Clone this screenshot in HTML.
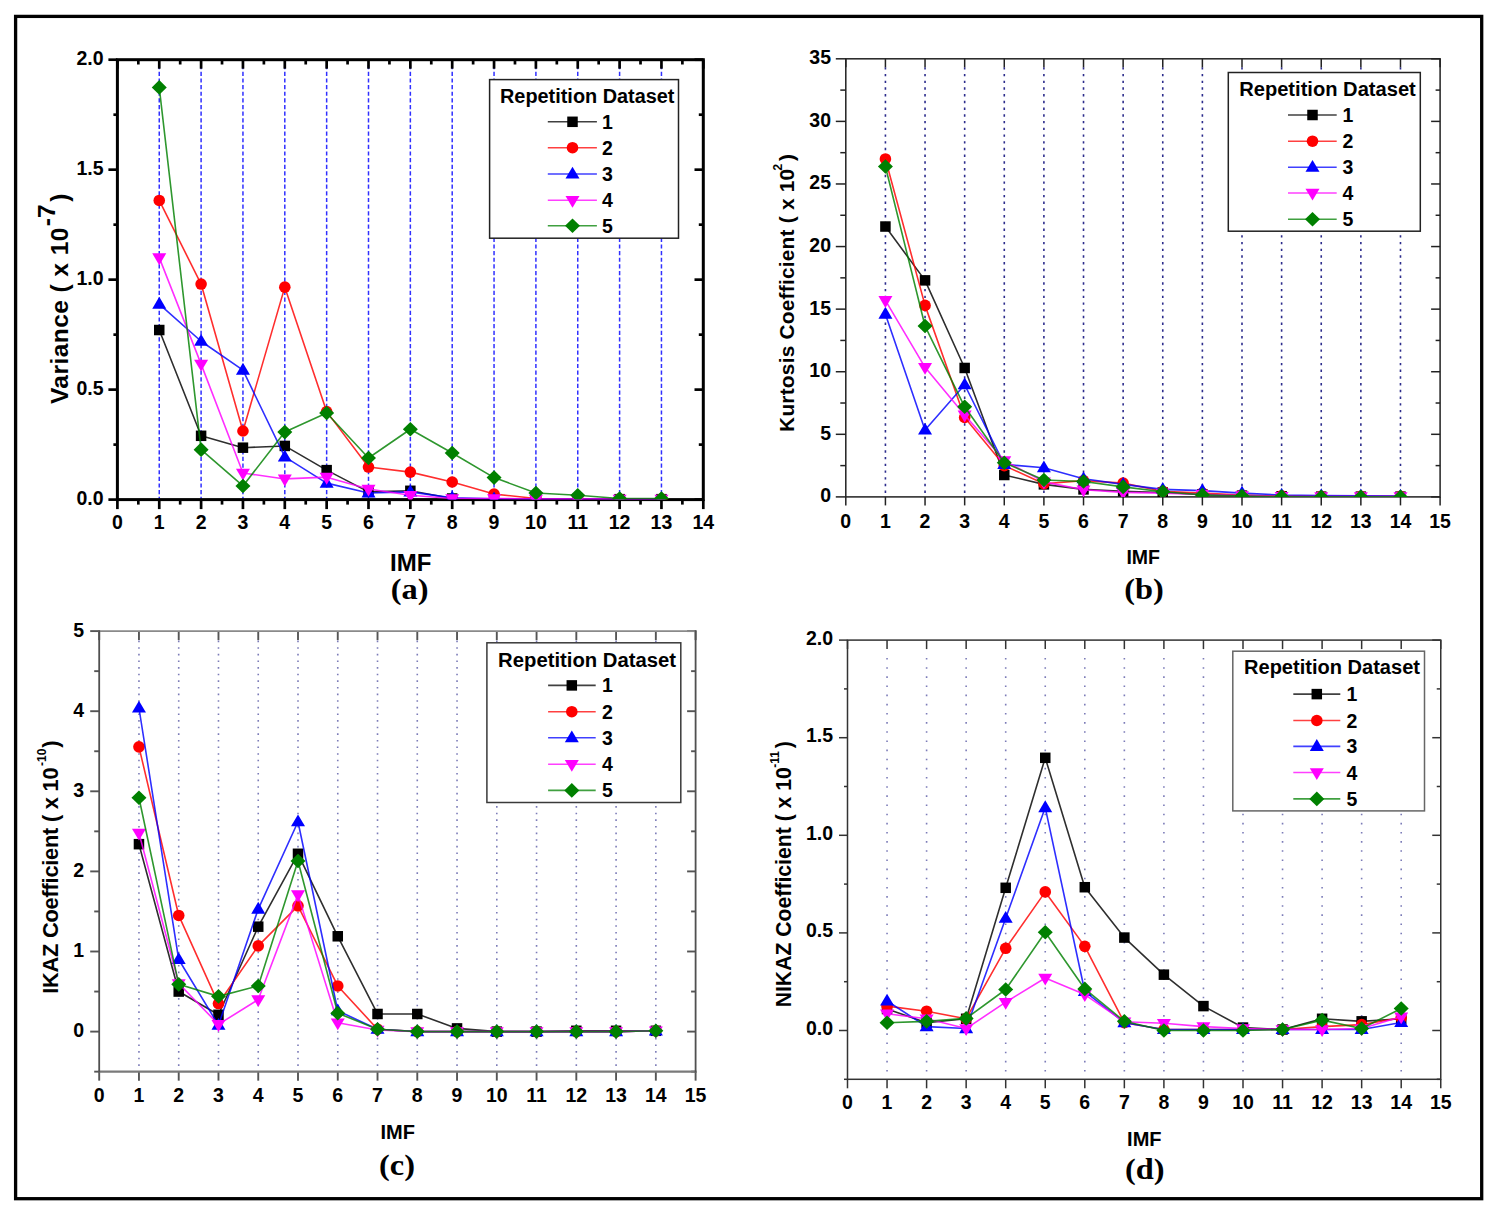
<!DOCTYPE html>
<html><head><meta charset="utf-8"><title>Figure</title>
<style>
html,body{margin:0;padding:0;background:#fff;}
body{width:1500px;height:1217px;overflow:hidden;}
svg{display:block;}
.b{font-family:"Liberation Sans",sans-serif;font-weight:bold;fill:#000;}
.s{font-family:"Liberation Serif",serif;font-weight:bold;fill:#000;}
</style></head>
<body>
<svg width="1500" height="1217" viewBox="0 0 1500 1217">
<rect x="0" y="0" width="1500" height="1217" fill="#fff"/>
<rect x="15.6" y="16.4" width="1466.1" height="1182.3" fill="none" stroke="#000" stroke-width="3.3"/>
<g>
<line x1="159.25" y1="65.1" x2="159.25" y2="499.6" stroke="#3030ff" stroke-width="1.5" stroke-dasharray="4.2 2.44"/>
<line x1="201.1" y1="65.1" x2="201.1" y2="499.6" stroke="#3030ff" stroke-width="1.5" stroke-dasharray="4.2 2.44"/>
<line x1="242.95" y1="65.1" x2="242.95" y2="499.6" stroke="#3030ff" stroke-width="1.5" stroke-dasharray="4.2 2.44"/>
<line x1="284.8" y1="65.1" x2="284.8" y2="499.6" stroke="#3030ff" stroke-width="1.5" stroke-dasharray="4.2 2.44"/>
<line x1="326.65" y1="65.1" x2="326.65" y2="499.6" stroke="#3030ff" stroke-width="1.5" stroke-dasharray="4.2 2.44"/>
<line x1="368.5" y1="65.1" x2="368.5" y2="499.6" stroke="#3030ff" stroke-width="1.5" stroke-dasharray="4.2 2.44"/>
<line x1="410.35" y1="65.1" x2="410.35" y2="499.6" stroke="#3030ff" stroke-width="1.5" stroke-dasharray="4.2 2.44"/>
<line x1="452.2" y1="65.1" x2="452.2" y2="499.6" stroke="#3030ff" stroke-width="1.5" stroke-dasharray="4.2 2.44"/>
<line x1="494.05" y1="65.1" x2="494.05" y2="499.6" stroke="#3030ff" stroke-width="1.5" stroke-dasharray="4.2 2.44"/>
<line x1="535.9" y1="65.1" x2="535.9" y2="499.6" stroke="#3030ff" stroke-width="1.5" stroke-dasharray="4.2 2.44"/>
<line x1="577.75" y1="65.1" x2="577.75" y2="499.6" stroke="#3030ff" stroke-width="1.5" stroke-dasharray="4.2 2.44"/>
<line x1="619.6" y1="65.1" x2="619.6" y2="499.6" stroke="#3030ff" stroke-width="1.5" stroke-dasharray="4.2 2.44"/>
<line x1="661.45" y1="65.1" x2="661.45" y2="499.6" stroke="#3030ff" stroke-width="1.5" stroke-dasharray="4.2 2.44"/>
<line x1="117.4" y1="499.6" x2="117.4" y2="509.1" stroke="#000" stroke-width="2.7"/>
<line x1="117.4" y1="59.7" x2="117.4" y2="68.7" stroke="#000" stroke-width="2.7"/>
<line x1="138.33" y1="499.6" x2="138.33" y2="504.6" stroke="#000" stroke-width="2.7"/>
<line x1="138.33" y1="59.7" x2="138.33" y2="64.5" stroke="#000" stroke-width="2.7"/>
<line x1="159.25" y1="499.6" x2="159.25" y2="509.1" stroke="#000" stroke-width="2.7"/>
<line x1="159.25" y1="59.7" x2="159.25" y2="68.7" stroke="#000" stroke-width="2.7"/>
<line x1="180.18" y1="499.6" x2="180.18" y2="504.6" stroke="#000" stroke-width="2.7"/>
<line x1="180.18" y1="59.7" x2="180.18" y2="64.5" stroke="#000" stroke-width="2.7"/>
<line x1="201.1" y1="499.6" x2="201.1" y2="509.1" stroke="#000" stroke-width="2.7"/>
<line x1="201.1" y1="59.7" x2="201.1" y2="68.7" stroke="#000" stroke-width="2.7"/>
<line x1="222.03" y1="499.6" x2="222.03" y2="504.6" stroke="#000" stroke-width="2.7"/>
<line x1="222.03" y1="59.7" x2="222.03" y2="64.5" stroke="#000" stroke-width="2.7"/>
<line x1="242.95" y1="499.6" x2="242.95" y2="509.1" stroke="#000" stroke-width="2.7"/>
<line x1="242.95" y1="59.7" x2="242.95" y2="68.7" stroke="#000" stroke-width="2.7"/>
<line x1="263.88" y1="499.6" x2="263.88" y2="504.6" stroke="#000" stroke-width="2.7"/>
<line x1="263.88" y1="59.7" x2="263.88" y2="64.5" stroke="#000" stroke-width="2.7"/>
<line x1="284.8" y1="499.6" x2="284.8" y2="509.1" stroke="#000" stroke-width="2.7"/>
<line x1="284.8" y1="59.7" x2="284.8" y2="68.7" stroke="#000" stroke-width="2.7"/>
<line x1="305.73" y1="499.6" x2="305.73" y2="504.6" stroke="#000" stroke-width="2.7"/>
<line x1="305.73" y1="59.7" x2="305.73" y2="64.5" stroke="#000" stroke-width="2.7"/>
<line x1="326.65" y1="499.6" x2="326.65" y2="509.1" stroke="#000" stroke-width="2.7"/>
<line x1="326.65" y1="59.7" x2="326.65" y2="68.7" stroke="#000" stroke-width="2.7"/>
<line x1="347.57" y1="499.6" x2="347.57" y2="504.6" stroke="#000" stroke-width="2.7"/>
<line x1="347.57" y1="59.7" x2="347.57" y2="64.5" stroke="#000" stroke-width="2.7"/>
<line x1="368.5" y1="499.6" x2="368.5" y2="509.1" stroke="#000" stroke-width="2.7"/>
<line x1="368.5" y1="59.7" x2="368.5" y2="68.7" stroke="#000" stroke-width="2.7"/>
<line x1="389.43" y1="499.6" x2="389.43" y2="504.6" stroke="#000" stroke-width="2.7"/>
<line x1="389.43" y1="59.7" x2="389.43" y2="64.5" stroke="#000" stroke-width="2.7"/>
<line x1="410.35" y1="499.6" x2="410.35" y2="509.1" stroke="#000" stroke-width="2.7"/>
<line x1="410.35" y1="59.7" x2="410.35" y2="68.7" stroke="#000" stroke-width="2.7"/>
<line x1="431.28" y1="499.6" x2="431.28" y2="504.6" stroke="#000" stroke-width="2.7"/>
<line x1="431.28" y1="59.7" x2="431.28" y2="64.5" stroke="#000" stroke-width="2.7"/>
<line x1="452.2" y1="499.6" x2="452.2" y2="509.1" stroke="#000" stroke-width="2.7"/>
<line x1="452.2" y1="59.7" x2="452.2" y2="68.7" stroke="#000" stroke-width="2.7"/>
<line x1="473.13" y1="499.6" x2="473.13" y2="504.6" stroke="#000" stroke-width="2.7"/>
<line x1="473.13" y1="59.7" x2="473.13" y2="64.5" stroke="#000" stroke-width="2.7"/>
<line x1="494.05" y1="499.6" x2="494.05" y2="509.1" stroke="#000" stroke-width="2.7"/>
<line x1="494.05" y1="59.7" x2="494.05" y2="68.7" stroke="#000" stroke-width="2.7"/>
<line x1="514.98" y1="499.6" x2="514.98" y2="504.6" stroke="#000" stroke-width="2.7"/>
<line x1="514.98" y1="59.7" x2="514.98" y2="64.5" stroke="#000" stroke-width="2.7"/>
<line x1="535.9" y1="499.6" x2="535.9" y2="509.1" stroke="#000" stroke-width="2.7"/>
<line x1="535.9" y1="59.7" x2="535.9" y2="68.7" stroke="#000" stroke-width="2.7"/>
<line x1="556.82" y1="499.6" x2="556.82" y2="504.6" stroke="#000" stroke-width="2.7"/>
<line x1="556.82" y1="59.7" x2="556.82" y2="64.5" stroke="#000" stroke-width="2.7"/>
<line x1="577.75" y1="499.6" x2="577.75" y2="509.1" stroke="#000" stroke-width="2.7"/>
<line x1="577.75" y1="59.7" x2="577.75" y2="68.7" stroke="#000" stroke-width="2.7"/>
<line x1="598.67" y1="499.6" x2="598.67" y2="504.6" stroke="#000" stroke-width="2.7"/>
<line x1="598.67" y1="59.7" x2="598.67" y2="64.5" stroke="#000" stroke-width="2.7"/>
<line x1="619.6" y1="499.6" x2="619.6" y2="509.1" stroke="#000" stroke-width="2.7"/>
<line x1="619.6" y1="59.7" x2="619.6" y2="68.7" stroke="#000" stroke-width="2.7"/>
<line x1="640.52" y1="499.6" x2="640.52" y2="504.6" stroke="#000" stroke-width="2.7"/>
<line x1="640.52" y1="59.7" x2="640.52" y2="64.5" stroke="#000" stroke-width="2.7"/>
<line x1="661.45" y1="499.6" x2="661.45" y2="509.1" stroke="#000" stroke-width="2.7"/>
<line x1="661.45" y1="59.7" x2="661.45" y2="68.7" stroke="#000" stroke-width="2.7"/>
<line x1="682.38" y1="499.6" x2="682.38" y2="504.6" stroke="#000" stroke-width="2.7"/>
<line x1="682.38" y1="59.7" x2="682.38" y2="64.5" stroke="#000" stroke-width="2.7"/>
<line x1="703.3" y1="499.6" x2="703.3" y2="509.1" stroke="#000" stroke-width="2.7"/>
<line x1="703.3" y1="59.7" x2="703.3" y2="68.7" stroke="#000" stroke-width="2.7"/>
<line x1="108.4" y1="499.6" x2="117.4" y2="499.6" stroke="#000" stroke-width="2.7"/>
<line x1="694.5" y1="499.6" x2="703.3" y2="499.6" stroke="#000" stroke-width="2.7"/>
<line x1="108.4" y1="389.62" x2="117.4" y2="389.62" stroke="#000" stroke-width="2.7"/>
<line x1="694.5" y1="389.62" x2="703.3" y2="389.62" stroke="#000" stroke-width="2.7"/>
<line x1="108.4" y1="279.65" x2="117.4" y2="279.65" stroke="#000" stroke-width="2.7"/>
<line x1="694.5" y1="279.65" x2="703.3" y2="279.65" stroke="#000" stroke-width="2.7"/>
<line x1="108.4" y1="169.68" x2="117.4" y2="169.68" stroke="#000" stroke-width="2.7"/>
<line x1="694.5" y1="169.68" x2="703.3" y2="169.68" stroke="#000" stroke-width="2.7"/>
<line x1="108.4" y1="59.7" x2="117.4" y2="59.7" stroke="#000" stroke-width="2.7"/>
<line x1="694.5" y1="59.7" x2="703.3" y2="59.7" stroke="#000" stroke-width="2.7"/>
<line x1="113.4" y1="444.61" x2="117.4" y2="444.61" stroke="#000" stroke-width="2.7"/>
<line x1="698.8" y1="444.61" x2="703.3" y2="444.61" stroke="#000" stroke-width="2.7"/>
<line x1="113.4" y1="334.64" x2="117.4" y2="334.64" stroke="#000" stroke-width="2.7"/>
<line x1="698.8" y1="334.64" x2="703.3" y2="334.64" stroke="#000" stroke-width="2.7"/>
<line x1="113.4" y1="224.66" x2="117.4" y2="224.66" stroke="#000" stroke-width="2.7"/>
<line x1="698.8" y1="224.66" x2="703.3" y2="224.66" stroke="#000" stroke-width="2.7"/>
<line x1="113.4" y1="114.69" x2="117.4" y2="114.69" stroke="#000" stroke-width="2.7"/>
<line x1="698.8" y1="114.69" x2="703.3" y2="114.69" stroke="#000" stroke-width="2.7"/>
<rect x="117.4" y="59.7" width="585.9" height="439.9" fill="none" stroke="#000" stroke-width="3"/>
<text x="117.4" y="529" font-size="19.5" text-anchor="middle" class="b">0</text>
<text x="159.25" y="529" font-size="19.5" text-anchor="middle" class="b">1</text>
<text x="201.1" y="529" font-size="19.5" text-anchor="middle" class="b">2</text>
<text x="242.95" y="529" font-size="19.5" text-anchor="middle" class="b">3</text>
<text x="284.8" y="529" font-size="19.5" text-anchor="middle" class="b">4</text>
<text x="326.65" y="529" font-size="19.5" text-anchor="middle" class="b">5</text>
<text x="368.5" y="529" font-size="19.5" text-anchor="middle" class="b">6</text>
<text x="410.35" y="529" font-size="19.5" text-anchor="middle" class="b">7</text>
<text x="452.2" y="529" font-size="19.5" text-anchor="middle" class="b">8</text>
<text x="494.05" y="529" font-size="19.5" text-anchor="middle" class="b">9</text>
<text x="535.9" y="529" font-size="19.5" text-anchor="middle" class="b">10</text>
<text x="577.75" y="529" font-size="19.5" text-anchor="middle" class="b">11</text>
<text x="619.6" y="529" font-size="19.5" text-anchor="middle" class="b">12</text>
<text x="661.45" y="529" font-size="19.5" text-anchor="middle" class="b">13</text>
<text x="703.3" y="529" font-size="19.5" text-anchor="middle" class="b">14</text>
<text x="103.5" y="505.1" font-size="19.5" text-anchor="end" class="b">0.0</text>
<text x="103.5" y="395.12" font-size="19.5" text-anchor="end" class="b">0.5</text>
<text x="103.5" y="285.15" font-size="19.5" text-anchor="end" class="b">1.0</text>
<text x="103.5" y="175.18" font-size="19.5" text-anchor="end" class="b">1.5</text>
<text x="103.5" y="65.2" font-size="19.5" text-anchor="end" class="b">2.0</text>
<clipPath id="clipa"><rect x="117.4" y="59.7" width="585.9" height="439.9"/></clipPath>
<g clip-path="url(#clipa)">
<path d="M159.25 330.02L201.1 435.81L242.95 447.69L284.8 445.93L326.65 470.13L368.5 491.9L410.35 490.8L452.2 498.5L494.05 498.72L535.9 498.94L577.75 498.94L619.6 499.16L661.45 499.16" fill="none" stroke="#000000" stroke-width="1.6" stroke-opacity="0.82" stroke-linejoin="round"/>
<rect x="154" y="324.77" width="10.5" height="10.5" fill="#000000"/>
<rect x="195.85" y="430.56" width="10.5" height="10.5" fill="#000000"/>
<rect x="237.7" y="442.44" width="10.5" height="10.5" fill="#000000"/>
<rect x="279.55" y="440.68" width="10.5" height="10.5" fill="#000000"/>
<rect x="321.4" y="464.88" width="10.5" height="10.5" fill="#000000"/>
<rect x="363.25" y="486.65" width="10.5" height="10.5" fill="#000000"/>
<rect x="405.1" y="485.55" width="10.5" height="10.5" fill="#000000"/>
<rect x="446.95" y="493.25" width="10.5" height="10.5" fill="#000000"/>
<rect x="488.8" y="493.47" width="10.5" height="10.5" fill="#000000"/>
<rect x="530.65" y="493.69" width="10.5" height="10.5" fill="#000000"/>
<rect x="572.5" y="493.69" width="10.5" height="10.5" fill="#000000"/>
<rect x="614.35" y="493.91" width="10.5" height="10.5" fill="#000000"/>
<rect x="656.2" y="493.91" width="10.5" height="10.5" fill="#000000"/>
<path d="M159.25 200.47L201.1 284.05L242.95 430.98L284.8 287.13L326.65 411.62L368.5 467.05L410.35 472.11L452.2 482L494.05 494.1L535.9 498.5L577.75 498.72L619.6 498.94L661.45 498.94" fill="none" stroke="#ff0000" stroke-width="1.6" stroke-opacity="0.82" stroke-linejoin="round"/>
<circle cx="159.25" cy="200.47" r="5.8" fill="#ff0000"/>
<circle cx="201.1" cy="284.05" r="5.8" fill="#ff0000"/>
<circle cx="242.95" cy="430.98" r="5.8" fill="#ff0000"/>
<circle cx="284.8" cy="287.13" r="5.8" fill="#ff0000"/>
<circle cx="326.65" cy="411.62" r="5.8" fill="#ff0000"/>
<circle cx="368.5" cy="467.05" r="5.8" fill="#ff0000"/>
<circle cx="410.35" cy="472.11" r="5.8" fill="#ff0000"/>
<circle cx="452.2" cy="482" r="5.8" fill="#ff0000"/>
<circle cx="494.05" cy="494.1" r="5.8" fill="#ff0000"/>
<circle cx="535.9" cy="498.5" r="5.8" fill="#ff0000"/>
<circle cx="577.75" cy="498.72" r="5.8" fill="#ff0000"/>
<circle cx="619.6" cy="498.94" r="5.8" fill="#ff0000"/>
<circle cx="661.45" cy="498.94" r="5.8" fill="#ff0000"/>
<path d="M159.25 304.06L201.1 341.24L242.95 370.05L284.8 456.93L326.65 483.1L368.5 493L410.35 491.9L452.2 497.84L494.05 498.72L535.9 498.94L577.75 498.94L619.6 499.16L661.45 499.16" fill="none" stroke="#0000ff" stroke-width="1.6" stroke-opacity="0.82" stroke-linejoin="round"/>
<path d="M159.25 296.76L166.25 308.66L152.25 308.66Z" fill="#0000ff"/>
<path d="M201.1 333.94L208.1 345.84L194.1 345.84Z" fill="#0000ff"/>
<path d="M242.95 362.75L249.95 374.65L235.95 374.65Z" fill="#0000ff"/>
<path d="M284.8 449.63L291.8 461.53L277.8 461.53Z" fill="#0000ff"/>
<path d="M326.65 475.8L333.65 487.7L319.65 487.7Z" fill="#0000ff"/>
<path d="M368.5 485.7L375.5 497.6L361.5 497.6Z" fill="#0000ff"/>
<path d="M410.35 484.6L417.35 496.5L403.35 496.5Z" fill="#0000ff"/>
<path d="M452.2 490.54L459.2 502.44L445.2 502.44Z" fill="#0000ff"/>
<path d="M494.05 491.42L501.05 503.32L487.05 503.32Z" fill="#0000ff"/>
<path d="M535.9 491.64L542.9 503.54L528.9 503.54Z" fill="#0000ff"/>
<path d="M577.75 491.64L584.75 503.54L570.75 503.54Z" fill="#0000ff"/>
<path d="M619.6 491.86L626.6 503.76L612.6 503.76Z" fill="#0000ff"/>
<path d="M661.45 491.86L668.45 503.76L654.45 503.76Z" fill="#0000ff"/>
<path d="M159.25 257.66L201.1 364.11L242.95 472.99L284.8 478.92L326.65 477.17L368.5 489.04L410.35 495.2L452.2 498.5L494.05 498.5L535.9 498.94L577.75 498.94L619.6 498.94L661.45 498.94" fill="none" stroke="#ff00ff" stroke-width="1.6" stroke-opacity="0.82" stroke-linejoin="round"/>
<path d="M152.25 253.36L166.25 253.36L159.25 265.16Z" fill="#ff00ff"/>
<path d="M194.1 359.81L208.1 359.81L201.1 371.61Z" fill="#ff00ff"/>
<path d="M235.95 468.69L249.95 468.69L242.95 480.49Z" fill="#ff00ff"/>
<path d="M277.8 474.62L291.8 474.62L284.8 486.42Z" fill="#ff00ff"/>
<path d="M319.65 472.87L333.65 472.87L326.65 484.67Z" fill="#ff00ff"/>
<path d="M361.5 484.74L375.5 484.74L368.5 496.54Z" fill="#ff00ff"/>
<path d="M403.35 490.9L417.35 490.9L410.35 502.7Z" fill="#ff00ff"/>
<path d="M445.2 494.2L459.2 494.2L452.2 506Z" fill="#ff00ff"/>
<path d="M487.05 494.2L501.05 494.2L494.05 506Z" fill="#ff00ff"/>
<path d="M528.9 494.64L542.9 494.64L535.9 506.44Z" fill="#ff00ff"/>
<path d="M570.75 494.64L584.75 494.64L577.75 506.44Z" fill="#ff00ff"/>
<path d="M612.6 494.64L626.6 494.64L619.6 506.44Z" fill="#ff00ff"/>
<path d="M654.45 494.64L668.45 494.64L661.45 506.44Z" fill="#ff00ff"/>
<path d="M159.25 87.41L201.1 449.67L242.95 485.96L284.8 432.08L326.65 412.94L368.5 458.03L410.35 429.22L452.2 452.97L494.05 477.61L535.9 493L577.75 495.2L619.6 498.5L661.45 498.5" fill="none" stroke="#008000" stroke-width="1.6" stroke-opacity="0.82" stroke-linejoin="round"/>
<path d="M159.25 80.11L166.75 87.41L159.25 94.71L151.75 87.41Z" fill="#008000"/>
<path d="M201.1 442.37L208.6 449.67L201.1 456.97L193.6 449.67Z" fill="#008000"/>
<path d="M242.95 478.66L250.45 485.96L242.95 493.26L235.45 485.96Z" fill="#008000"/>
<path d="M284.8 424.78L292.3 432.08L284.8 439.38L277.3 432.08Z" fill="#008000"/>
<path d="M326.65 405.64L334.15 412.94L326.65 420.24L319.15 412.94Z" fill="#008000"/>
<path d="M368.5 450.73L376 458.03L368.5 465.33L361 458.03Z" fill="#008000"/>
<path d="M410.35 421.92L417.85 429.22L410.35 436.52L402.85 429.22Z" fill="#008000"/>
<path d="M452.2 445.67L459.7 452.97L452.2 460.27L444.7 452.97Z" fill="#008000"/>
<path d="M494.05 470.31L501.55 477.61L494.05 484.91L486.55 477.61Z" fill="#008000"/>
<path d="M535.9 485.7L543.4 493L535.9 500.3L528.4 493Z" fill="#008000"/>
<path d="M577.75 487.9L585.25 495.2L577.75 502.5L570.25 495.2Z" fill="#008000"/>
<path d="M619.6 491.2L627.1 498.5L619.6 505.8L612.1 498.5Z" fill="#008000"/>
<path d="M661.45 491.2L668.95 498.5L661.45 505.8L653.95 498.5Z" fill="#008000"/>
</g>
<rect x="489.6" y="79.6" width="188.9" height="158.6" fill="#fff" stroke="#222" stroke-width="1.5"/>
<text x="500" y="103.3" font-size="20" class="b" textLength="174.5" lengthAdjust="spacingAndGlyphs">Repetition Dataset</text>
<line x1="547.8" y1="121.8" x2="596.9" y2="121.8" stroke="#000000" stroke-width="1.6" stroke-opacity="0.75"/>
<rect x="567.25" y="116.55" width="10.5" height="10.5" fill="#000000"/>
<text x="602" y="128.8" font-size="19.5" class="b">1</text>
<line x1="547.8" y1="147.7" x2="596.9" y2="147.7" stroke="#ff0000" stroke-width="1.6" stroke-opacity="0.75"/>
<circle cx="572.5" cy="147.7" r="5.8" fill="#ff0000"/>
<text x="602" y="154.7" font-size="19.5" class="b">2</text>
<line x1="547.8" y1="174" x2="596.9" y2="174" stroke="#0000ff" stroke-width="1.6" stroke-opacity="0.75"/>
<path d="M572.5 166.7L579.5 178.6L565.5 178.6Z" fill="#0000ff"/>
<text x="602" y="181" font-size="19.5" class="b">3</text>
<line x1="547.8" y1="200.2" x2="596.9" y2="200.2" stroke="#ff00ff" stroke-width="1.6" stroke-opacity="0.75"/>
<path d="M565.5 195.9L579.5 195.9L572.5 207.7Z" fill="#ff00ff"/>
<text x="602" y="207.2" font-size="19.5" class="b">4</text>
<line x1="547.8" y1="225.8" x2="596.9" y2="225.8" stroke="#008000" stroke-width="1.6" stroke-opacity="0.75"/>
<path d="M572.5 218.5L580 225.8L572.5 233.1L565 225.8Z" fill="#008000"/>
<text x="602" y="232.8" font-size="19.5" class="b">5</text>
<text transform="translate(0 0) rotate(-90)" font-size="24.5" class="b"><tspan x="-404.07" y="67.5" letter-spacing="0.44">Variance ( x 10</tspan><tspan x="-226.26" y="54.5" font-size="24.5">-7</tspan><tspan x="-201.72" y="67.5">)</tspan></text>
<text x="410.7" y="570.5" font-size="24" text-anchor="middle" class="b">IMF</text>
<text transform="translate(409.7 598.8) scale(1.08 1)" font-size="30" text-anchor="middle" class="s">(a)</text>
</g>
<g>
<line x1="885.42" y1="67.21" x2="885.42" y2="496.9" stroke="#2c2c8c" stroke-width="1.6" stroke-dasharray="2.4 4.32"/>
<line x1="925.04" y1="67.21" x2="925.04" y2="496.9" stroke="#2c2c8c" stroke-width="1.6" stroke-dasharray="2.4 4.32"/>
<line x1="964.66" y1="67.21" x2="964.66" y2="496.9" stroke="#2c2c8c" stroke-width="1.6" stroke-dasharray="2.4 4.32"/>
<line x1="1004.28" y1="67.21" x2="1004.28" y2="496.9" stroke="#2c2c8c" stroke-width="1.6" stroke-dasharray="2.4 4.32"/>
<line x1="1043.9" y1="67.21" x2="1043.9" y2="496.9" stroke="#2c2c8c" stroke-width="1.6" stroke-dasharray="2.4 4.32"/>
<line x1="1083.52" y1="67.21" x2="1083.52" y2="496.9" stroke="#2c2c8c" stroke-width="1.6" stroke-dasharray="2.4 4.32"/>
<line x1="1123.14" y1="67.21" x2="1123.14" y2="496.9" stroke="#2c2c8c" stroke-width="1.6" stroke-dasharray="2.4 4.32"/>
<line x1="1162.76" y1="67.21" x2="1162.76" y2="496.9" stroke="#2c2c8c" stroke-width="1.6" stroke-dasharray="2.4 4.32"/>
<line x1="1202.38" y1="67.21" x2="1202.38" y2="496.9" stroke="#2c2c8c" stroke-width="1.6" stroke-dasharray="2.4 4.32"/>
<line x1="1242" y1="67.21" x2="1242" y2="496.9" stroke="#2c2c8c" stroke-width="1.6" stroke-dasharray="2.4 4.32"/>
<line x1="1281.62" y1="67.21" x2="1281.62" y2="496.9" stroke="#2c2c8c" stroke-width="1.6" stroke-dasharray="2.4 4.32"/>
<line x1="1321.24" y1="67.21" x2="1321.24" y2="496.9" stroke="#2c2c8c" stroke-width="1.6" stroke-dasharray="2.4 4.32"/>
<line x1="1360.86" y1="67.21" x2="1360.86" y2="496.9" stroke="#2c2c8c" stroke-width="1.6" stroke-dasharray="2.4 4.32"/>
<line x1="1400.48" y1="67.21" x2="1400.48" y2="496.9" stroke="#2c2c8c" stroke-width="1.6" stroke-dasharray="2.4 4.32"/>
<line x1="845.8" y1="496.9" x2="845.8" y2="505.4" stroke="#222" stroke-width="1.5"/>
<line x1="845.8" y1="58.81" x2="845.8" y2="67.31" stroke="#222" stroke-width="1.5"/>
<line x1="885.42" y1="496.9" x2="885.42" y2="505.4" stroke="#222" stroke-width="1.5"/>
<line x1="885.42" y1="58.81" x2="885.42" y2="67.31" stroke="#222" stroke-width="1.5"/>
<line x1="925.04" y1="496.9" x2="925.04" y2="505.4" stroke="#222" stroke-width="1.5"/>
<line x1="925.04" y1="58.81" x2="925.04" y2="67.31" stroke="#222" stroke-width="1.5"/>
<line x1="964.66" y1="496.9" x2="964.66" y2="505.4" stroke="#222" stroke-width="1.5"/>
<line x1="964.66" y1="58.81" x2="964.66" y2="67.31" stroke="#222" stroke-width="1.5"/>
<line x1="1004.28" y1="496.9" x2="1004.28" y2="505.4" stroke="#222" stroke-width="1.5"/>
<line x1="1004.28" y1="58.81" x2="1004.28" y2="67.31" stroke="#222" stroke-width="1.5"/>
<line x1="1043.9" y1="496.9" x2="1043.9" y2="505.4" stroke="#222" stroke-width="1.5"/>
<line x1="1043.9" y1="58.81" x2="1043.9" y2="67.31" stroke="#222" stroke-width="1.5"/>
<line x1="1083.52" y1="496.9" x2="1083.52" y2="505.4" stroke="#222" stroke-width="1.5"/>
<line x1="1083.52" y1="58.81" x2="1083.52" y2="67.31" stroke="#222" stroke-width="1.5"/>
<line x1="1123.14" y1="496.9" x2="1123.14" y2="505.4" stroke="#222" stroke-width="1.5"/>
<line x1="1123.14" y1="58.81" x2="1123.14" y2="67.31" stroke="#222" stroke-width="1.5"/>
<line x1="1162.76" y1="496.9" x2="1162.76" y2="505.4" stroke="#222" stroke-width="1.5"/>
<line x1="1162.76" y1="58.81" x2="1162.76" y2="67.31" stroke="#222" stroke-width="1.5"/>
<line x1="1202.38" y1="496.9" x2="1202.38" y2="505.4" stroke="#222" stroke-width="1.5"/>
<line x1="1202.38" y1="58.81" x2="1202.38" y2="67.31" stroke="#222" stroke-width="1.5"/>
<line x1="1242" y1="496.9" x2="1242" y2="505.4" stroke="#222" stroke-width="1.5"/>
<line x1="1242" y1="58.81" x2="1242" y2="67.31" stroke="#222" stroke-width="1.5"/>
<line x1="1281.62" y1="496.9" x2="1281.62" y2="505.4" stroke="#222" stroke-width="1.5"/>
<line x1="1281.62" y1="58.81" x2="1281.62" y2="67.31" stroke="#222" stroke-width="1.5"/>
<line x1="1321.24" y1="496.9" x2="1321.24" y2="505.4" stroke="#222" stroke-width="1.5"/>
<line x1="1321.24" y1="58.81" x2="1321.24" y2="67.31" stroke="#222" stroke-width="1.5"/>
<line x1="1360.86" y1="496.9" x2="1360.86" y2="505.4" stroke="#222" stroke-width="1.5"/>
<line x1="1360.86" y1="58.81" x2="1360.86" y2="67.31" stroke="#222" stroke-width="1.5"/>
<line x1="1400.48" y1="496.9" x2="1400.48" y2="505.4" stroke="#222" stroke-width="1.5"/>
<line x1="1400.48" y1="58.81" x2="1400.48" y2="67.31" stroke="#222" stroke-width="1.5"/>
<line x1="1440.1" y1="496.9" x2="1440.1" y2="505.4" stroke="#222" stroke-width="1.5"/>
<line x1="1440.1" y1="58.81" x2="1440.1" y2="67.31" stroke="#222" stroke-width="1.5"/>
<line x1="835.8" y1="496.9" x2="845.8" y2="496.9" stroke="#222" stroke-width="1.5"/>
<line x1="1431.1" y1="496.9" x2="1440.1" y2="496.9" stroke="#222" stroke-width="1.5"/>
<line x1="835.8" y1="434.31" x2="845.8" y2="434.31" stroke="#222" stroke-width="1.5"/>
<line x1="1431.1" y1="434.31" x2="1440.1" y2="434.31" stroke="#222" stroke-width="1.5"/>
<line x1="835.8" y1="371.73" x2="845.8" y2="371.73" stroke="#222" stroke-width="1.5"/>
<line x1="1431.1" y1="371.73" x2="1440.1" y2="371.73" stroke="#222" stroke-width="1.5"/>
<line x1="835.8" y1="309.14" x2="845.8" y2="309.14" stroke="#222" stroke-width="1.5"/>
<line x1="1431.1" y1="309.14" x2="1440.1" y2="309.14" stroke="#222" stroke-width="1.5"/>
<line x1="835.8" y1="246.56" x2="845.8" y2="246.56" stroke="#222" stroke-width="1.5"/>
<line x1="1431.1" y1="246.56" x2="1440.1" y2="246.56" stroke="#222" stroke-width="1.5"/>
<line x1="835.8" y1="183.97" x2="845.8" y2="183.97" stroke="#222" stroke-width="1.5"/>
<line x1="1431.1" y1="183.97" x2="1440.1" y2="183.97" stroke="#222" stroke-width="1.5"/>
<line x1="835.8" y1="121.39" x2="845.8" y2="121.39" stroke="#222" stroke-width="1.5"/>
<line x1="1431.1" y1="121.39" x2="1440.1" y2="121.39" stroke="#222" stroke-width="1.5"/>
<line x1="835.8" y1="58.81" x2="845.8" y2="58.81" stroke="#222" stroke-width="1.5"/>
<line x1="1431.1" y1="58.81" x2="1440.1" y2="58.81" stroke="#222" stroke-width="1.5"/>
<line x1="840.3" y1="465.61" x2="845.8" y2="465.61" stroke="#222" stroke-width="1.5"/>
<line x1="1435.6" y1="465.61" x2="1440.1" y2="465.61" stroke="#222" stroke-width="1.5"/>
<line x1="840.3" y1="403.02" x2="845.8" y2="403.02" stroke="#222" stroke-width="1.5"/>
<line x1="1435.6" y1="403.02" x2="1440.1" y2="403.02" stroke="#222" stroke-width="1.5"/>
<line x1="840.3" y1="340.44" x2="845.8" y2="340.44" stroke="#222" stroke-width="1.5"/>
<line x1="1435.6" y1="340.44" x2="1440.1" y2="340.44" stroke="#222" stroke-width="1.5"/>
<line x1="840.3" y1="277.85" x2="845.8" y2="277.85" stroke="#222" stroke-width="1.5"/>
<line x1="1435.6" y1="277.85" x2="1440.1" y2="277.85" stroke="#222" stroke-width="1.5"/>
<line x1="840.3" y1="215.27" x2="845.8" y2="215.27" stroke="#222" stroke-width="1.5"/>
<line x1="1435.6" y1="215.27" x2="1440.1" y2="215.27" stroke="#222" stroke-width="1.5"/>
<line x1="840.3" y1="152.68" x2="845.8" y2="152.68" stroke="#222" stroke-width="1.5"/>
<line x1="1435.6" y1="152.68" x2="1440.1" y2="152.68" stroke="#222" stroke-width="1.5"/>
<line x1="840.3" y1="90.1" x2="845.8" y2="90.1" stroke="#222" stroke-width="1.5"/>
<line x1="1435.6" y1="90.1" x2="1440.1" y2="90.1" stroke="#222" stroke-width="1.5"/>
<rect x="845.8" y="58.81" width="594.3" height="438.09" fill="none" stroke="#222" stroke-width="1.5"/>
<text x="845.8" y="528" font-size="19.5" text-anchor="middle" class="b">0</text>
<text x="885.42" y="528" font-size="19.5" text-anchor="middle" class="b">1</text>
<text x="925.04" y="528" font-size="19.5" text-anchor="middle" class="b">2</text>
<text x="964.66" y="528" font-size="19.5" text-anchor="middle" class="b">3</text>
<text x="1004.28" y="528" font-size="19.5" text-anchor="middle" class="b">4</text>
<text x="1043.9" y="528" font-size="19.5" text-anchor="middle" class="b">5</text>
<text x="1083.52" y="528" font-size="19.5" text-anchor="middle" class="b">6</text>
<text x="1123.14" y="528" font-size="19.5" text-anchor="middle" class="b">7</text>
<text x="1162.76" y="528" font-size="19.5" text-anchor="middle" class="b">8</text>
<text x="1202.38" y="528" font-size="19.5" text-anchor="middle" class="b">9</text>
<text x="1242" y="528" font-size="19.5" text-anchor="middle" class="b">10</text>
<text x="1281.62" y="528" font-size="19.5" text-anchor="middle" class="b">11</text>
<text x="1321.24" y="528" font-size="19.5" text-anchor="middle" class="b">12</text>
<text x="1360.86" y="528" font-size="19.5" text-anchor="middle" class="b">13</text>
<text x="1400.48" y="528" font-size="19.5" text-anchor="middle" class="b">14</text>
<text x="1440.1" y="528" font-size="19.5" text-anchor="middle" class="b">15</text>
<text x="831" y="502.4" font-size="19.5" text-anchor="end" class="b">0</text>
<text x="831" y="439.81" font-size="19.5" text-anchor="end" class="b">5</text>
<text x="831" y="377.23" font-size="19.5" text-anchor="end" class="b">10</text>
<text x="831" y="314.64" font-size="19.5" text-anchor="end" class="b">15</text>
<text x="831" y="252.06" font-size="19.5" text-anchor="end" class="b">20</text>
<text x="831" y="189.47" font-size="19.5" text-anchor="end" class="b">25</text>
<text x="831" y="126.89" font-size="19.5" text-anchor="end" class="b">30</text>
<text x="831" y="64.31" font-size="19.5" text-anchor="end" class="b">35</text>
<clipPath id="clipb"><rect x="845.8" y="58.81" width="594.3" height="438.09"/></clipPath>
<g clip-path="url(#clipb)">
<path d="M885.42 226.53L925.04 280.36L964.66 367.97L1004.28 475L1043.9 484.38L1083.52 489.39L1123.14 491.27L1162.76 492.52L1202.38 494.4L1242 495.65L1281.62 496.27L1321.24 496.65L1360.86 496.65L1400.48 496.65" fill="none" stroke="#000000" stroke-width="1.6" stroke-opacity="0.82" stroke-linejoin="round"/>
<rect x="880.17" y="221.28" width="10.5" height="10.5" fill="#000000"/>
<rect x="919.79" y="275.11" width="10.5" height="10.5" fill="#000000"/>
<rect x="959.41" y="362.72" width="10.5" height="10.5" fill="#000000"/>
<rect x="999.03" y="469.75" width="10.5" height="10.5" fill="#000000"/>
<rect x="1038.65" y="479.13" width="10.5" height="10.5" fill="#000000"/>
<rect x="1078.27" y="484.14" width="10.5" height="10.5" fill="#000000"/>
<rect x="1117.89" y="486.02" width="10.5" height="10.5" fill="#000000"/>
<rect x="1157.51" y="487.27" width="10.5" height="10.5" fill="#000000"/>
<rect x="1197.13" y="489.15" width="10.5" height="10.5" fill="#000000"/>
<rect x="1236.75" y="490.4" width="10.5" height="10.5" fill="#000000"/>
<rect x="1276.37" y="491.02" width="10.5" height="10.5" fill="#000000"/>
<rect x="1315.99" y="491.4" width="10.5" height="10.5" fill="#000000"/>
<rect x="1355.61" y="491.4" width="10.5" height="10.5" fill="#000000"/>
<rect x="1395.23" y="491.4" width="10.5" height="10.5" fill="#000000"/>
<path d="M885.42 158.94L925.04 305.39L964.66 417.42L1004.28 465.61L1043.9 483.76L1083.52 480.63L1123.14 483.13L1162.76 491.27L1202.38 493.14L1242 495.02L1281.62 495.9L1321.24 496.27L1360.86 496.4L1400.48 496.4" fill="none" stroke="#ff0000" stroke-width="1.6" stroke-opacity="0.82" stroke-linejoin="round"/>
<circle cx="885.42" cy="158.94" r="5.8" fill="#ff0000"/>
<circle cx="925.04" cy="305.39" r="5.8" fill="#ff0000"/>
<circle cx="964.66" cy="417.42" r="5.8" fill="#ff0000"/>
<circle cx="1004.28" cy="465.61" r="5.8" fill="#ff0000"/>
<circle cx="1043.9" cy="483.76" r="5.8" fill="#ff0000"/>
<circle cx="1083.52" cy="480.63" r="5.8" fill="#ff0000"/>
<circle cx="1123.14" cy="483.13" r="5.8" fill="#ff0000"/>
<circle cx="1162.76" cy="491.27" r="5.8" fill="#ff0000"/>
<circle cx="1202.38" cy="493.14" r="5.8" fill="#ff0000"/>
<circle cx="1242" cy="495.02" r="5.8" fill="#ff0000"/>
<circle cx="1281.62" cy="495.9" r="5.8" fill="#ff0000"/>
<circle cx="1321.24" cy="496.27" r="5.8" fill="#ff0000"/>
<circle cx="1360.86" cy="496.4" r="5.8" fill="#ff0000"/>
<circle cx="1400.48" cy="496.4" r="5.8" fill="#ff0000"/>
<path d="M885.42 314.15L925.04 429.93L964.66 384.75L1004.28 464.36L1043.9 467.74L1083.52 478.75L1123.14 484.38L1162.76 489.39L1202.38 490.64L1242 493.14L1281.62 495.02L1321.24 495.65L1360.86 495.9L1400.48 496.15" fill="none" stroke="#0000ff" stroke-width="1.6" stroke-opacity="0.82" stroke-linejoin="round"/>
<path d="M885.42 306.85L892.42 318.75L878.42 318.75Z" fill="#0000ff"/>
<path d="M925.04 422.63L932.04 434.53L918.04 434.53Z" fill="#0000ff"/>
<path d="M964.66 377.45L971.66 389.35L957.66 389.35Z" fill="#0000ff"/>
<path d="M1004.28 457.06L1011.28 468.96L997.28 468.96Z" fill="#0000ff"/>
<path d="M1043.9 460.44L1050.9 472.34L1036.9 472.34Z" fill="#0000ff"/>
<path d="M1083.52 471.45L1090.52 483.35L1076.52 483.35Z" fill="#0000ff"/>
<path d="M1123.14 477.08L1130.14 488.98L1116.14 488.98Z" fill="#0000ff"/>
<path d="M1162.76 482.09L1169.76 493.99L1155.76 493.99Z" fill="#0000ff"/>
<path d="M1202.38 483.34L1209.38 495.24L1195.38 495.24Z" fill="#0000ff"/>
<path d="M1242 485.84L1249 497.74L1235 497.74Z" fill="#0000ff"/>
<path d="M1281.62 487.72L1288.62 499.62L1274.62 499.62Z" fill="#0000ff"/>
<path d="M1321.24 488.35L1328.24 500.25L1314.24 500.25Z" fill="#0000ff"/>
<path d="M1360.86 488.6L1367.86 500.5L1353.86 500.5Z" fill="#0000ff"/>
<path d="M1400.48 488.85L1407.48 500.75L1393.48 500.75Z" fill="#0000ff"/>
<path d="M885.42 300.38L925.04 367.35L964.66 414.91L1004.28 460.6L1043.9 481.88L1083.52 489.77L1123.14 492.39L1162.76 493.14L1202.38 494.4L1242 495.65L1281.62 496.27L1321.24 496.52L1360.86 496.65L1400.48 496.65" fill="none" stroke="#ff00ff" stroke-width="1.6" stroke-opacity="0.82" stroke-linejoin="round"/>
<path d="M878.42 296.08L892.42 296.08L885.42 307.88Z" fill="#ff00ff"/>
<path d="M918.04 363.05L932.04 363.05L925.04 374.85Z" fill="#ff00ff"/>
<path d="M957.66 410.61L971.66 410.61L964.66 422.41Z" fill="#ff00ff"/>
<path d="M997.28 456.3L1011.28 456.3L1004.28 468.1Z" fill="#ff00ff"/>
<path d="M1036.9 477.58L1050.9 477.58L1043.9 489.38Z" fill="#ff00ff"/>
<path d="M1076.52 485.47L1090.52 485.47L1083.52 497.27Z" fill="#ff00ff"/>
<path d="M1116.14 488.09L1130.14 488.09L1123.14 499.89Z" fill="#ff00ff"/>
<path d="M1155.76 488.84L1169.76 488.84L1162.76 500.64Z" fill="#ff00ff"/>
<path d="M1195.38 490.1L1209.38 490.1L1202.38 501.9Z" fill="#ff00ff"/>
<path d="M1235 491.35L1249 491.35L1242 503.15Z" fill="#ff00ff"/>
<path d="M1274.62 491.97L1288.62 491.97L1281.62 503.77Z" fill="#ff00ff"/>
<path d="M1314.24 492.22L1328.24 492.22L1321.24 504.02Z" fill="#ff00ff"/>
<path d="M1353.86 492.35L1367.86 492.35L1360.86 504.15Z" fill="#ff00ff"/>
<path d="M1393.48 492.35L1407.48 492.35L1400.48 504.15Z" fill="#ff00ff"/>
<path d="M885.42 166.45L925.04 326.04L964.66 406.78L1004.28 462.73L1043.9 480L1083.52 481.5L1123.14 486.89L1162.76 491.77L1202.38 494.9L1242 496.02L1281.62 496.65L1321.24 496.9L1360.86 496.9L1400.48 496.9" fill="none" stroke="#008000" stroke-width="1.6" stroke-opacity="0.82" stroke-linejoin="round"/>
<path d="M885.42 159.15L892.92 166.45L885.42 173.75L877.92 166.45Z" fill="#008000"/>
<path d="M925.04 318.74L932.54 326.04L925.04 333.34L917.54 326.04Z" fill="#008000"/>
<path d="M964.66 399.48L972.16 406.78L964.66 414.08L957.16 406.78Z" fill="#008000"/>
<path d="M1004.28 455.43L1011.78 462.73L1004.28 470.03L996.78 462.73Z" fill="#008000"/>
<path d="M1043.9 472.7L1051.4 480L1043.9 487.3L1036.4 480Z" fill="#008000"/>
<path d="M1083.52 474.2L1091.02 481.5L1083.52 488.8L1076.02 481.5Z" fill="#008000"/>
<path d="M1123.14 479.59L1130.64 486.89L1123.14 494.19L1115.64 486.89Z" fill="#008000"/>
<path d="M1162.76 484.47L1170.26 491.77L1162.76 499.07L1155.26 491.77Z" fill="#008000"/>
<path d="M1202.38 487.6L1209.88 494.9L1202.38 502.2L1194.88 494.9Z" fill="#008000"/>
<path d="M1242 488.72L1249.5 496.02L1242 503.32L1234.5 496.02Z" fill="#008000"/>
<path d="M1281.62 489.35L1289.12 496.65L1281.62 503.95L1274.12 496.65Z" fill="#008000"/>
<path d="M1321.24 489.6L1328.74 496.9L1321.24 504.2L1313.74 496.9Z" fill="#008000"/>
<path d="M1360.86 489.6L1368.36 496.9L1360.86 504.2L1353.36 496.9Z" fill="#008000"/>
<path d="M1400.48 489.6L1407.98 496.9L1400.48 504.2L1392.98 496.9Z" fill="#008000"/>
</g>
<rect x="1228.3" y="72.5" width="192" height="158.7" fill="#fff" stroke="#222" stroke-width="1.5"/>
<text x="1239.2" y="95.8" font-size="20" class="b" textLength="176.6" lengthAdjust="spacingAndGlyphs">Repetition Dataset</text>
<line x1="1288" y1="115" x2="1336.7" y2="115" stroke="#000000" stroke-width="1.6" stroke-opacity="0.75"/>
<rect x="1307.25" y="109.75" width="10.5" height="10.5" fill="#000000"/>
<text x="1342.5" y="122" font-size="19.5" class="b">1</text>
<line x1="1288" y1="141.2" x2="1336.7" y2="141.2" stroke="#ff0000" stroke-width="1.6" stroke-opacity="0.75"/>
<circle cx="1312.5" cy="141.2" r="5.8" fill="#ff0000"/>
<text x="1342.5" y="148.2" font-size="19.5" class="b">2</text>
<line x1="1288" y1="167.2" x2="1336.7" y2="167.2" stroke="#0000ff" stroke-width="1.6" stroke-opacity="0.75"/>
<path d="M1312.5 159.9L1319.5 171.8L1305.5 171.8Z" fill="#0000ff"/>
<text x="1342.5" y="174.2" font-size="19.5" class="b">3</text>
<line x1="1288" y1="193" x2="1336.7" y2="193" stroke="#ff00ff" stroke-width="1.6" stroke-opacity="0.75"/>
<path d="M1305.5 188.7L1319.5 188.7L1312.5 200.5Z" fill="#ff00ff"/>
<text x="1342.5" y="200" font-size="19.5" class="b">4</text>
<line x1="1288" y1="219.2" x2="1336.7" y2="219.2" stroke="#008000" stroke-width="1.6" stroke-opacity="0.75"/>
<path d="M1312.5 211.9L1320 219.2L1312.5 226.5L1305 219.2Z" fill="#008000"/>
<text x="1342.5" y="226.2" font-size="19.5" class="b">5</text>
<text transform="translate(0 0) rotate(-90)" font-size="20.8" class="b"><tspan x="-431.89" y="794" letter-spacing="0.25">Kurtosis Coefficient ( x 10</tspan><tspan x="-170.73" y="781.5" font-size="12.5">2</tspan><tspan x="-161.02" y="794">)</tspan></text>
<text x="1143.2" y="563.6" font-size="19.5" text-anchor="middle" class="b">IMF</text>
<text transform="translate(1144.1 599.2) scale(1.08 1)" font-size="30" text-anchor="middle" class="s">(b)</text>
</g>
<g>
<line x1="138.96" y1="640.6" x2="138.96" y2="1071.65" stroke="#7c7cb8" stroke-width="1.6" stroke-dasharray="1.6 5.02"/>
<line x1="178.72" y1="640.6" x2="178.72" y2="1071.65" stroke="#7c7cb8" stroke-width="1.6" stroke-dasharray="1.6 5.02"/>
<line x1="218.48" y1="640.6" x2="218.48" y2="1071.65" stroke="#7c7cb8" stroke-width="1.6" stroke-dasharray="1.6 5.02"/>
<line x1="258.24" y1="640.6" x2="258.24" y2="1071.65" stroke="#7c7cb8" stroke-width="1.6" stroke-dasharray="1.6 5.02"/>
<line x1="298" y1="640.6" x2="298" y2="1071.65" stroke="#7c7cb8" stroke-width="1.6" stroke-dasharray="1.6 5.02"/>
<line x1="337.76" y1="640.6" x2="337.76" y2="1071.65" stroke="#7c7cb8" stroke-width="1.6" stroke-dasharray="1.6 5.02"/>
<line x1="377.52" y1="640.6" x2="377.52" y2="1071.65" stroke="#7c7cb8" stroke-width="1.6" stroke-dasharray="1.6 5.02"/>
<line x1="417.28" y1="640.6" x2="417.28" y2="1071.65" stroke="#7c7cb8" stroke-width="1.6" stroke-dasharray="1.6 5.02"/>
<line x1="457.04" y1="640.6" x2="457.04" y2="1071.65" stroke="#7c7cb8" stroke-width="1.6" stroke-dasharray="1.6 5.02"/>
<line x1="496.8" y1="640.6" x2="496.8" y2="1071.65" stroke="#7c7cb8" stroke-width="1.6" stroke-dasharray="1.6 5.02"/>
<line x1="536.56" y1="640.6" x2="536.56" y2="1071.65" stroke="#7c7cb8" stroke-width="1.6" stroke-dasharray="1.6 5.02"/>
<line x1="576.32" y1="640.6" x2="576.32" y2="1071.65" stroke="#7c7cb8" stroke-width="1.6" stroke-dasharray="1.6 5.02"/>
<line x1="616.08" y1="640.6" x2="616.08" y2="1071.65" stroke="#7c7cb8" stroke-width="1.6" stroke-dasharray="1.6 5.02"/>
<line x1="655.84" y1="640.6" x2="655.84" y2="1071.65" stroke="#7c7cb8" stroke-width="1.6" stroke-dasharray="1.6 5.02"/>
<line x1="99.2" y1="1071.65" x2="99.2" y2="1080.65" stroke="#555" stroke-width="1.9"/>
<line x1="99.2" y1="631.1" x2="99.2" y2="640.1" stroke="#555" stroke-width="1.9"/>
<line x1="138.96" y1="1071.65" x2="138.96" y2="1080.65" stroke="#555" stroke-width="1.9"/>
<line x1="138.96" y1="631.1" x2="138.96" y2="640.1" stroke="#555" stroke-width="1.9"/>
<line x1="178.72" y1="1071.65" x2="178.72" y2="1080.65" stroke="#555" stroke-width="1.9"/>
<line x1="178.72" y1="631.1" x2="178.72" y2="640.1" stroke="#555" stroke-width="1.9"/>
<line x1="218.48" y1="1071.65" x2="218.48" y2="1080.65" stroke="#555" stroke-width="1.9"/>
<line x1="218.48" y1="631.1" x2="218.48" y2="640.1" stroke="#555" stroke-width="1.9"/>
<line x1="258.24" y1="1071.65" x2="258.24" y2="1080.65" stroke="#555" stroke-width="1.9"/>
<line x1="258.24" y1="631.1" x2="258.24" y2="640.1" stroke="#555" stroke-width="1.9"/>
<line x1="298" y1="1071.65" x2="298" y2="1080.65" stroke="#555" stroke-width="1.9"/>
<line x1="298" y1="631.1" x2="298" y2="640.1" stroke="#555" stroke-width="1.9"/>
<line x1="337.76" y1="1071.65" x2="337.76" y2="1080.65" stroke="#555" stroke-width="1.9"/>
<line x1="337.76" y1="631.1" x2="337.76" y2="640.1" stroke="#555" stroke-width="1.9"/>
<line x1="377.52" y1="1071.65" x2="377.52" y2="1080.65" stroke="#555" stroke-width="1.9"/>
<line x1="377.52" y1="631.1" x2="377.52" y2="640.1" stroke="#555" stroke-width="1.9"/>
<line x1="417.28" y1="1071.65" x2="417.28" y2="1080.65" stroke="#555" stroke-width="1.9"/>
<line x1="417.28" y1="631.1" x2="417.28" y2="640.1" stroke="#555" stroke-width="1.9"/>
<line x1="457.04" y1="1071.65" x2="457.04" y2="1080.65" stroke="#555" stroke-width="1.9"/>
<line x1="457.04" y1="631.1" x2="457.04" y2="640.1" stroke="#555" stroke-width="1.9"/>
<line x1="496.8" y1="1071.65" x2="496.8" y2="1080.65" stroke="#555" stroke-width="1.9"/>
<line x1="496.8" y1="631.1" x2="496.8" y2="640.1" stroke="#555" stroke-width="1.9"/>
<line x1="536.56" y1="1071.65" x2="536.56" y2="1080.65" stroke="#555" stroke-width="1.9"/>
<line x1="536.56" y1="631.1" x2="536.56" y2="640.1" stroke="#555" stroke-width="1.9"/>
<line x1="576.32" y1="1071.65" x2="576.32" y2="1080.65" stroke="#555" stroke-width="1.9"/>
<line x1="576.32" y1="631.1" x2="576.32" y2="640.1" stroke="#555" stroke-width="1.9"/>
<line x1="616.08" y1="1071.65" x2="616.08" y2="1080.65" stroke="#555" stroke-width="1.9"/>
<line x1="616.08" y1="631.1" x2="616.08" y2="640.1" stroke="#555" stroke-width="1.9"/>
<line x1="655.84" y1="1071.65" x2="655.84" y2="1080.65" stroke="#555" stroke-width="1.9"/>
<line x1="655.84" y1="631.1" x2="655.84" y2="640.1" stroke="#555" stroke-width="1.9"/>
<line x1="695.6" y1="1071.65" x2="695.6" y2="1080.65" stroke="#555" stroke-width="1.9"/>
<line x1="695.6" y1="631.1" x2="695.6" y2="640.1" stroke="#555" stroke-width="1.9"/>
<line x1="90.2" y1="1031.6" x2="99.2" y2="1031.6" stroke="#555" stroke-width="1.9"/>
<line x1="687.1" y1="1031.6" x2="695.6" y2="1031.6" stroke="#555" stroke-width="1.9"/>
<line x1="90.2" y1="951.5" x2="99.2" y2="951.5" stroke="#555" stroke-width="1.9"/>
<line x1="687.1" y1="951.5" x2="695.6" y2="951.5" stroke="#555" stroke-width="1.9"/>
<line x1="90.2" y1="871.4" x2="99.2" y2="871.4" stroke="#555" stroke-width="1.9"/>
<line x1="687.1" y1="871.4" x2="695.6" y2="871.4" stroke="#555" stroke-width="1.9"/>
<line x1="90.2" y1="791.3" x2="99.2" y2="791.3" stroke="#555" stroke-width="1.9"/>
<line x1="687.1" y1="791.3" x2="695.6" y2="791.3" stroke="#555" stroke-width="1.9"/>
<line x1="90.2" y1="711.2" x2="99.2" y2="711.2" stroke="#555" stroke-width="1.9"/>
<line x1="687.1" y1="711.2" x2="695.6" y2="711.2" stroke="#555" stroke-width="1.9"/>
<line x1="90.2" y1="631.1" x2="99.2" y2="631.1" stroke="#555" stroke-width="1.9"/>
<line x1="687.1" y1="631.1" x2="695.6" y2="631.1" stroke="#555" stroke-width="1.9"/>
<line x1="94.2" y1="1071.65" x2="99.2" y2="1071.65" stroke="#555" stroke-width="1.9"/>
<line x1="691.1" y1="1071.65" x2="695.6" y2="1071.65" stroke="#555" stroke-width="1.9"/>
<line x1="94.2" y1="991.55" x2="99.2" y2="991.55" stroke="#555" stroke-width="1.9"/>
<line x1="691.1" y1="991.55" x2="695.6" y2="991.55" stroke="#555" stroke-width="1.9"/>
<line x1="94.2" y1="911.45" x2="99.2" y2="911.45" stroke="#555" stroke-width="1.9"/>
<line x1="691.1" y1="911.45" x2="695.6" y2="911.45" stroke="#555" stroke-width="1.9"/>
<line x1="94.2" y1="831.35" x2="99.2" y2="831.35" stroke="#555" stroke-width="1.9"/>
<line x1="691.1" y1="831.35" x2="695.6" y2="831.35" stroke="#555" stroke-width="1.9"/>
<line x1="94.2" y1="751.25" x2="99.2" y2="751.25" stroke="#555" stroke-width="1.9"/>
<line x1="691.1" y1="751.25" x2="695.6" y2="751.25" stroke="#555" stroke-width="1.9"/>
<line x1="94.2" y1="671.15" x2="99.2" y2="671.15" stroke="#555" stroke-width="1.9"/>
<line x1="691.1" y1="671.15" x2="695.6" y2="671.15" stroke="#555" stroke-width="1.9"/>
<line x1="98.3" y1="631.1" x2="696.5" y2="631.1" stroke="#8a8a8a" stroke-width="1.8"/>
<line x1="98.3" y1="1071.65" x2="696.5" y2="1071.65" stroke="#7a7a7a" stroke-width="2.1"/>
<line x1="99.2" y1="630.2" x2="99.2" y2="1072.55" stroke="#505050" stroke-width="1.8"/>
<line x1="695.6" y1="630.2" x2="695.6" y2="1072.55" stroke="#505050" stroke-width="1.8"/>
<text x="99.2" y="1102" font-size="19.5" text-anchor="middle" class="b">0</text>
<text x="138.96" y="1102" font-size="19.5" text-anchor="middle" class="b">1</text>
<text x="178.72" y="1102" font-size="19.5" text-anchor="middle" class="b">2</text>
<text x="218.48" y="1102" font-size="19.5" text-anchor="middle" class="b">3</text>
<text x="258.24" y="1102" font-size="19.5" text-anchor="middle" class="b">4</text>
<text x="298" y="1102" font-size="19.5" text-anchor="middle" class="b">5</text>
<text x="337.76" y="1102" font-size="19.5" text-anchor="middle" class="b">6</text>
<text x="377.52" y="1102" font-size="19.5" text-anchor="middle" class="b">7</text>
<text x="417.28" y="1102" font-size="19.5" text-anchor="middle" class="b">8</text>
<text x="457.04" y="1102" font-size="19.5" text-anchor="middle" class="b">9</text>
<text x="496.8" y="1102" font-size="19.5" text-anchor="middle" class="b">10</text>
<text x="536.56" y="1102" font-size="19.5" text-anchor="middle" class="b">11</text>
<text x="576.32" y="1102" font-size="19.5" text-anchor="middle" class="b">12</text>
<text x="616.08" y="1102" font-size="19.5" text-anchor="middle" class="b">13</text>
<text x="655.84" y="1102" font-size="19.5" text-anchor="middle" class="b">14</text>
<text x="695.6" y="1102" font-size="19.5" text-anchor="middle" class="b">15</text>
<text x="84" y="1037.1" font-size="19.5" text-anchor="end" class="b">0</text>
<text x="84" y="957" font-size="19.5" text-anchor="end" class="b">1</text>
<text x="84" y="876.9" font-size="19.5" text-anchor="end" class="b">2</text>
<text x="84" y="796.8" font-size="19.5" text-anchor="end" class="b">3</text>
<text x="84" y="716.7" font-size="19.5" text-anchor="end" class="b">4</text>
<text x="84" y="636.6" font-size="19.5" text-anchor="end" class="b">5</text>
<clipPath id="clipc"><rect x="99.2" y="631.1" width="596.4" height="440.55"/></clipPath>
<g clip-path="url(#clipc)">
<path d="M138.96 844.17L178.72 991.55L218.48 1014.78L258.24 926.67L298 853.78L337.76 936.28L377.52 1013.98L417.28 1013.98L457.04 1028.4L496.8 1031.6L536.56 1031.6L576.32 1030.8L616.08 1030.8L655.84 1030.8" fill="none" stroke="#000000" stroke-width="1.6" stroke-opacity="0.82" stroke-linejoin="round"/>
<rect x="133.71" y="838.92" width="10.5" height="10.5" fill="#000000"/>
<rect x="173.47" y="986.3" width="10.5" height="10.5" fill="#000000"/>
<rect x="213.23" y="1009.53" width="10.5" height="10.5" fill="#000000"/>
<rect x="252.99" y="921.42" width="10.5" height="10.5" fill="#000000"/>
<rect x="292.75" y="848.53" width="10.5" height="10.5" fill="#000000"/>
<rect x="332.51" y="931.03" width="10.5" height="10.5" fill="#000000"/>
<rect x="372.27" y="1008.73" width="10.5" height="10.5" fill="#000000"/>
<rect x="412.03" y="1008.73" width="10.5" height="10.5" fill="#000000"/>
<rect x="451.79" y="1023.15" width="10.5" height="10.5" fill="#000000"/>
<rect x="491.55" y="1026.35" width="10.5" height="10.5" fill="#000000"/>
<rect x="531.31" y="1026.35" width="10.5" height="10.5" fill="#000000"/>
<rect x="571.07" y="1025.55" width="10.5" height="10.5" fill="#000000"/>
<rect x="610.83" y="1025.55" width="10.5" height="10.5" fill="#000000"/>
<rect x="650.59" y="1025.55" width="10.5" height="10.5" fill="#000000"/>
<path d="M138.96 746.84L178.72 915.45L218.48 1003.56L258.24 945.89L298 905.84L337.76 985.94L377.52 1029.2L417.28 1031.6L457.04 1031.6L496.8 1031.6L536.56 1031.6L576.32 1031.6L616.08 1031.6L655.84 1030.8" fill="none" stroke="#ff0000" stroke-width="1.6" stroke-opacity="0.82" stroke-linejoin="round"/>
<circle cx="138.96" cy="746.84" r="5.8" fill="#ff0000"/>
<circle cx="178.72" cy="915.45" r="5.8" fill="#ff0000"/>
<circle cx="218.48" cy="1003.56" r="5.8" fill="#ff0000"/>
<circle cx="258.24" cy="945.89" r="5.8" fill="#ff0000"/>
<circle cx="298" cy="905.84" r="5.8" fill="#ff0000"/>
<circle cx="337.76" cy="985.94" r="5.8" fill="#ff0000"/>
<circle cx="377.52" cy="1029.2" r="5.8" fill="#ff0000"/>
<circle cx="417.28" cy="1031.6" r="5.8" fill="#ff0000"/>
<circle cx="457.04" cy="1031.6" r="5.8" fill="#ff0000"/>
<circle cx="496.8" cy="1031.6" r="5.8" fill="#ff0000"/>
<circle cx="536.56" cy="1031.6" r="5.8" fill="#ff0000"/>
<circle cx="576.32" cy="1031.6" r="5.8" fill="#ff0000"/>
<circle cx="616.08" cy="1031.6" r="5.8" fill="#ff0000"/>
<circle cx="655.84" cy="1030.8" r="5.8" fill="#ff0000"/>
<path d="M138.96 708L178.72 959.51L218.48 1025.19L258.24 909.05L298 821.74L337.76 1010.77L377.52 1029.2L417.28 1031.6L457.04 1031.6L496.8 1031.6L536.56 1031.6L576.32 1031.6L616.08 1031.6L655.84 1030.8" fill="none" stroke="#0000ff" stroke-width="1.6" stroke-opacity="0.82" stroke-linejoin="round"/>
<path d="M138.96 700.7L145.96 712.6L131.96 712.6Z" fill="#0000ff"/>
<path d="M178.72 952.21L185.72 964.11L171.72 964.11Z" fill="#0000ff"/>
<path d="M218.48 1017.89L225.48 1029.79L211.48 1029.79Z" fill="#0000ff"/>
<path d="M258.24 901.75L265.24 913.65L251.24 913.65Z" fill="#0000ff"/>
<path d="M298 814.44L305 826.34L291 826.34Z" fill="#0000ff"/>
<path d="M337.76 1003.47L344.76 1015.37L330.76 1015.37Z" fill="#0000ff"/>
<path d="M377.52 1021.9L384.52 1033.8L370.52 1033.8Z" fill="#0000ff"/>
<path d="M417.28 1024.3L424.28 1036.2L410.28 1036.2Z" fill="#0000ff"/>
<path d="M457.04 1024.3L464.04 1036.2L450.04 1036.2Z" fill="#0000ff"/>
<path d="M496.8 1024.3L503.8 1036.2L489.8 1036.2Z" fill="#0000ff"/>
<path d="M536.56 1024.3L543.56 1036.2L529.56 1036.2Z" fill="#0000ff"/>
<path d="M576.32 1024.3L583.32 1036.2L569.32 1036.2Z" fill="#0000ff"/>
<path d="M616.08 1024.3L623.08 1036.2L609.08 1036.2Z" fill="#0000ff"/>
<path d="M655.84 1023.5L662.84 1035.4L648.84 1035.4Z" fill="#0000ff"/>
<path d="M138.96 832.95L178.72 983.54L218.48 1024.39L258.24 999.56L298 894.63L337.76 1022.79L377.52 1030L417.28 1031.6L457.04 1031.6L496.8 1031.6L536.56 1031.6L576.32 1031.6L616.08 1031.6L655.84 1030.8" fill="none" stroke="#ff00ff" stroke-width="1.6" stroke-opacity="0.82" stroke-linejoin="round"/>
<path d="M131.96 828.65L145.96 828.65L138.96 840.45Z" fill="#ff00ff"/>
<path d="M171.72 979.24L185.72 979.24L178.72 991.04Z" fill="#ff00ff"/>
<path d="M211.48 1020.09L225.48 1020.09L218.48 1031.89Z" fill="#ff00ff"/>
<path d="M251.24 995.26L265.24 995.26L258.24 1007.06Z" fill="#ff00ff"/>
<path d="M291 890.33L305 890.33L298 902.13Z" fill="#ff00ff"/>
<path d="M330.76 1018.49L344.76 1018.49L337.76 1030.29Z" fill="#ff00ff"/>
<path d="M370.52 1025.7L384.52 1025.7L377.52 1037.5Z" fill="#ff00ff"/>
<path d="M410.28 1027.3L424.28 1027.3L417.28 1039.1Z" fill="#ff00ff"/>
<path d="M450.04 1027.3L464.04 1027.3L457.04 1039.1Z" fill="#ff00ff"/>
<path d="M489.8 1027.3L503.8 1027.3L496.8 1039.1Z" fill="#ff00ff"/>
<path d="M529.56 1027.3L543.56 1027.3L536.56 1039.1Z" fill="#ff00ff"/>
<path d="M569.32 1027.3L583.32 1027.3L576.32 1039.1Z" fill="#ff00ff"/>
<path d="M609.08 1027.3L623.08 1027.3L616.08 1039.1Z" fill="#ff00ff"/>
<path d="M648.84 1026.5L662.84 1026.5L655.84 1038.3Z" fill="#ff00ff"/>
<path d="M138.96 797.71L178.72 984.34L218.48 996.36L258.24 985.94L298 860.99L337.76 1013.18L377.52 1029.2L417.28 1031.6L457.04 1031.6L496.8 1031.6L536.56 1031.6L576.32 1031.6L616.08 1031.6L655.84 1030.8" fill="none" stroke="#008000" stroke-width="1.6" stroke-opacity="0.82" stroke-linejoin="round"/>
<path d="M138.96 790.41L146.46 797.71L138.96 805.01L131.46 797.71Z" fill="#008000"/>
<path d="M178.72 977.04L186.22 984.34L178.72 991.64L171.22 984.34Z" fill="#008000"/>
<path d="M218.48 989.06L225.98 996.36L218.48 1003.66L210.98 996.36Z" fill="#008000"/>
<path d="M258.24 978.64L265.74 985.94L258.24 993.24L250.74 985.94Z" fill="#008000"/>
<path d="M298 853.69L305.5 860.99L298 868.29L290.5 860.99Z" fill="#008000"/>
<path d="M337.76 1005.88L345.26 1013.18L337.76 1020.48L330.26 1013.18Z" fill="#008000"/>
<path d="M377.52 1021.9L385.02 1029.2L377.52 1036.5L370.02 1029.2Z" fill="#008000"/>
<path d="M417.28 1024.3L424.78 1031.6L417.28 1038.9L409.78 1031.6Z" fill="#008000"/>
<path d="M457.04 1024.3L464.54 1031.6L457.04 1038.9L449.54 1031.6Z" fill="#008000"/>
<path d="M496.8 1024.3L504.3 1031.6L496.8 1038.9L489.3 1031.6Z" fill="#008000"/>
<path d="M536.56 1024.3L544.06 1031.6L536.56 1038.9L529.06 1031.6Z" fill="#008000"/>
<path d="M576.32 1024.3L583.82 1031.6L576.32 1038.9L568.82 1031.6Z" fill="#008000"/>
<path d="M616.08 1024.3L623.58 1031.6L616.08 1038.9L608.58 1031.6Z" fill="#008000"/>
<path d="M655.84 1023.5L663.34 1030.8L655.84 1038.1L648.34 1030.8Z" fill="#008000"/>
</g>
<rect x="486.9" y="642.8" width="193.9" height="159.7" fill="#fff" stroke="#3a3a3a" stroke-width="1.5"/>
<text x="498.1" y="666.7" font-size="20" class="b" textLength="178" lengthAdjust="spacingAndGlyphs">Repetition Dataset</text>
<line x1="548.1" y1="685.4" x2="595.7" y2="685.4" stroke="#000000" stroke-width="1.6" stroke-opacity="0.75"/>
<rect x="566.55" y="680.15" width="10.5" height="10.5" fill="#000000"/>
<text x="602" y="692.4" font-size="19.5" class="b">1</text>
<line x1="548.1" y1="711.7" x2="595.7" y2="711.7" stroke="#ff0000" stroke-width="1.6" stroke-opacity="0.75"/>
<circle cx="571.8" cy="711.7" r="5.8" fill="#ff0000"/>
<text x="602" y="718.7" font-size="19.5" class="b">2</text>
<line x1="548.1" y1="737.7" x2="595.7" y2="737.7" stroke="#0000ff" stroke-width="1.6" stroke-opacity="0.75"/>
<path d="M571.8 730.4L578.8 742.3L564.8 742.3Z" fill="#0000ff"/>
<text x="602" y="744.7" font-size="19.5" class="b">3</text>
<line x1="548.1" y1="764.3" x2="595.7" y2="764.3" stroke="#ff00ff" stroke-width="1.6" stroke-opacity="0.75"/>
<path d="M564.8 760L578.8 760L571.8 771.8Z" fill="#ff00ff"/>
<text x="602" y="771.3" font-size="19.5" class="b">4</text>
<line x1="548.1" y1="790.4" x2="595.7" y2="790.4" stroke="#008000" stroke-width="1.6" stroke-opacity="0.75"/>
<path d="M571.8 783.1L579.3 790.4L571.8 797.7L564.3 790.4Z" fill="#008000"/>
<text x="602" y="797.4" font-size="19.5" class="b">5</text>
<text transform="translate(0 0) rotate(-90)" font-size="21.8" class="b"><tspan x="-993.86" y="58" letter-spacing="-0.22">IKAZ Coefficient ( x 10</tspan><tspan x="-765.97" y="46" font-size="12">-10</tspan><tspan x="-747.82" y="58">)</tspan></text>
<text x="397.7" y="1139.2" font-size="20" text-anchor="middle" class="b">IMF</text>
<text transform="translate(397 1175.4) scale(1.08 1)" font-size="30" text-anchor="middle" class="s">(c)</text>
</g>
<g>
<line x1="887.05" y1="658" x2="887.05" y2="1079.3" stroke="#7c7cb8" stroke-width="1.6" stroke-dasharray="1.6 7.555"/>
<line x1="926.6" y1="658" x2="926.6" y2="1079.3" stroke="#7c7cb8" stroke-width="1.6" stroke-dasharray="1.6 7.555"/>
<line x1="966.15" y1="658" x2="966.15" y2="1079.3" stroke="#7c7cb8" stroke-width="1.6" stroke-dasharray="1.6 7.555"/>
<line x1="1005.7" y1="658" x2="1005.7" y2="1079.3" stroke="#7c7cb8" stroke-width="1.6" stroke-dasharray="1.6 7.555"/>
<line x1="1045.25" y1="658" x2="1045.25" y2="1079.3" stroke="#7c7cb8" stroke-width="1.6" stroke-dasharray="1.6 7.555"/>
<line x1="1084.8" y1="658" x2="1084.8" y2="1079.3" stroke="#7c7cb8" stroke-width="1.6" stroke-dasharray="1.6 7.555"/>
<line x1="1124.35" y1="658" x2="1124.35" y2="1079.3" stroke="#7c7cb8" stroke-width="1.6" stroke-dasharray="1.6 7.555"/>
<line x1="1163.9" y1="658" x2="1163.9" y2="1079.3" stroke="#7c7cb8" stroke-width="1.6" stroke-dasharray="1.6 7.555"/>
<line x1="1203.45" y1="658" x2="1203.45" y2="1079.3" stroke="#7c7cb8" stroke-width="1.6" stroke-dasharray="1.6 7.555"/>
<line x1="1243" y1="658" x2="1243" y2="1079.3" stroke="#7c7cb8" stroke-width="1.6" stroke-dasharray="1.6 7.555"/>
<line x1="1282.55" y1="658" x2="1282.55" y2="1079.3" stroke="#7c7cb8" stroke-width="1.6" stroke-dasharray="1.6 7.555"/>
<line x1="1322.1" y1="658" x2="1322.1" y2="1079.3" stroke="#7c7cb8" stroke-width="1.6" stroke-dasharray="1.6 7.555"/>
<line x1="1361.65" y1="658" x2="1361.65" y2="1079.3" stroke="#7c7cb8" stroke-width="1.6" stroke-dasharray="1.6 7.555"/>
<line x1="1401.2" y1="658" x2="1401.2" y2="1079.3" stroke="#7c7cb8" stroke-width="1.6" stroke-dasharray="1.6 7.555"/>
<line x1="847.5" y1="1079.3" x2="847.5" y2="1088.3" stroke="#333" stroke-width="1.5"/>
<line x1="847.5" y1="640.1" x2="847.5" y2="649.1" stroke="#333" stroke-width="1.5"/>
<line x1="887.05" y1="1079.3" x2="887.05" y2="1088.3" stroke="#333" stroke-width="1.5"/>
<line x1="887.05" y1="640.1" x2="887.05" y2="649.1" stroke="#333" stroke-width="1.5"/>
<line x1="926.6" y1="1079.3" x2="926.6" y2="1088.3" stroke="#333" stroke-width="1.5"/>
<line x1="926.6" y1="640.1" x2="926.6" y2="649.1" stroke="#333" stroke-width="1.5"/>
<line x1="966.15" y1="1079.3" x2="966.15" y2="1088.3" stroke="#333" stroke-width="1.5"/>
<line x1="966.15" y1="640.1" x2="966.15" y2="649.1" stroke="#333" stroke-width="1.5"/>
<line x1="1005.7" y1="1079.3" x2="1005.7" y2="1088.3" stroke="#333" stroke-width="1.5"/>
<line x1="1005.7" y1="640.1" x2="1005.7" y2="649.1" stroke="#333" stroke-width="1.5"/>
<line x1="1045.25" y1="1079.3" x2="1045.25" y2="1088.3" stroke="#333" stroke-width="1.5"/>
<line x1="1045.25" y1="640.1" x2="1045.25" y2="649.1" stroke="#333" stroke-width="1.5"/>
<line x1="1084.8" y1="1079.3" x2="1084.8" y2="1088.3" stroke="#333" stroke-width="1.5"/>
<line x1="1084.8" y1="640.1" x2="1084.8" y2="649.1" stroke="#333" stroke-width="1.5"/>
<line x1="1124.35" y1="1079.3" x2="1124.35" y2="1088.3" stroke="#333" stroke-width="1.5"/>
<line x1="1124.35" y1="640.1" x2="1124.35" y2="649.1" stroke="#333" stroke-width="1.5"/>
<line x1="1163.9" y1="1079.3" x2="1163.9" y2="1088.3" stroke="#333" stroke-width="1.5"/>
<line x1="1163.9" y1="640.1" x2="1163.9" y2="649.1" stroke="#333" stroke-width="1.5"/>
<line x1="1203.45" y1="1079.3" x2="1203.45" y2="1088.3" stroke="#333" stroke-width="1.5"/>
<line x1="1203.45" y1="640.1" x2="1203.45" y2="649.1" stroke="#333" stroke-width="1.5"/>
<line x1="1243" y1="1079.3" x2="1243" y2="1088.3" stroke="#333" stroke-width="1.5"/>
<line x1="1243" y1="640.1" x2="1243" y2="649.1" stroke="#333" stroke-width="1.5"/>
<line x1="1282.55" y1="1079.3" x2="1282.55" y2="1088.3" stroke="#333" stroke-width="1.5"/>
<line x1="1282.55" y1="640.1" x2="1282.55" y2="649.1" stroke="#333" stroke-width="1.5"/>
<line x1="1322.1" y1="1079.3" x2="1322.1" y2="1088.3" stroke="#333" stroke-width="1.5"/>
<line x1="1322.1" y1="640.1" x2="1322.1" y2="649.1" stroke="#333" stroke-width="1.5"/>
<line x1="1361.65" y1="1079.3" x2="1361.65" y2="1088.3" stroke="#333" stroke-width="1.5"/>
<line x1="1361.65" y1="640.1" x2="1361.65" y2="649.1" stroke="#333" stroke-width="1.5"/>
<line x1="1401.2" y1="1079.3" x2="1401.2" y2="1088.3" stroke="#333" stroke-width="1.5"/>
<line x1="1401.2" y1="640.1" x2="1401.2" y2="649.1" stroke="#333" stroke-width="1.5"/>
<line x1="1440.75" y1="1079.3" x2="1440.75" y2="1088.3" stroke="#333" stroke-width="1.5"/>
<line x1="1440.75" y1="640.1" x2="1440.75" y2="649.1" stroke="#333" stroke-width="1.5"/>
<line x1="839" y1="1030.5" x2="847.5" y2="1030.5" stroke="#333" stroke-width="1.5"/>
<line x1="1432.25" y1="1030.5" x2="1440.75" y2="1030.5" stroke="#333" stroke-width="1.5"/>
<line x1="839" y1="932.9" x2="847.5" y2="932.9" stroke="#333" stroke-width="1.5"/>
<line x1="1432.25" y1="932.9" x2="1440.75" y2="932.9" stroke="#333" stroke-width="1.5"/>
<line x1="839" y1="835.3" x2="847.5" y2="835.3" stroke="#333" stroke-width="1.5"/>
<line x1="1432.25" y1="835.3" x2="1440.75" y2="835.3" stroke="#333" stroke-width="1.5"/>
<line x1="839" y1="737.7" x2="847.5" y2="737.7" stroke="#333" stroke-width="1.5"/>
<line x1="1432.25" y1="737.7" x2="1440.75" y2="737.7" stroke="#333" stroke-width="1.5"/>
<line x1="839" y1="640.1" x2="847.5" y2="640.1" stroke="#333" stroke-width="1.5"/>
<line x1="1432.25" y1="640.1" x2="1440.75" y2="640.1" stroke="#333" stroke-width="1.5"/>
<line x1="844" y1="1079.3" x2="847.5" y2="1079.3" stroke="#333" stroke-width="1.5"/>
<line x1="1436.75" y1="1079.3" x2="1440.75" y2="1079.3" stroke="#333" stroke-width="1.5"/>
<line x1="844" y1="981.7" x2="847.5" y2="981.7" stroke="#333" stroke-width="1.5"/>
<line x1="1436.75" y1="981.7" x2="1440.75" y2="981.7" stroke="#333" stroke-width="1.5"/>
<line x1="844" y1="884.1" x2="847.5" y2="884.1" stroke="#333" stroke-width="1.5"/>
<line x1="1436.75" y1="884.1" x2="1440.75" y2="884.1" stroke="#333" stroke-width="1.5"/>
<line x1="844" y1="786.5" x2="847.5" y2="786.5" stroke="#333" stroke-width="1.5"/>
<line x1="1436.75" y1="786.5" x2="1440.75" y2="786.5" stroke="#333" stroke-width="1.5"/>
<line x1="844" y1="688.9" x2="847.5" y2="688.9" stroke="#333" stroke-width="1.5"/>
<line x1="1436.75" y1="688.9" x2="1440.75" y2="688.9" stroke="#333" stroke-width="1.5"/>
<rect x="847.5" y="640.1" width="593.25" height="439.2" fill="none" stroke="#333" stroke-width="1.5"/>
<text x="847.5" y="1109" font-size="19.5" text-anchor="middle" class="b">0</text>
<text x="887.05" y="1109" font-size="19.5" text-anchor="middle" class="b">1</text>
<text x="926.6" y="1109" font-size="19.5" text-anchor="middle" class="b">2</text>
<text x="966.15" y="1109" font-size="19.5" text-anchor="middle" class="b">3</text>
<text x="1005.7" y="1109" font-size="19.5" text-anchor="middle" class="b">4</text>
<text x="1045.25" y="1109" font-size="19.5" text-anchor="middle" class="b">5</text>
<text x="1084.8" y="1109" font-size="19.5" text-anchor="middle" class="b">6</text>
<text x="1124.35" y="1109" font-size="19.5" text-anchor="middle" class="b">7</text>
<text x="1163.9" y="1109" font-size="19.5" text-anchor="middle" class="b">8</text>
<text x="1203.45" y="1109" font-size="19.5" text-anchor="middle" class="b">9</text>
<text x="1243" y="1109" font-size="19.5" text-anchor="middle" class="b">10</text>
<text x="1282.55" y="1109" font-size="19.5" text-anchor="middle" class="b">11</text>
<text x="1322.1" y="1109" font-size="19.5" text-anchor="middle" class="b">12</text>
<text x="1361.65" y="1109" font-size="19.5" text-anchor="middle" class="b">13</text>
<text x="1401.2" y="1109" font-size="19.5" text-anchor="middle" class="b">14</text>
<text x="1440.75" y="1109" font-size="19.5" text-anchor="middle" class="b">15</text>
<text x="833" y="1035" font-size="19.5" text-anchor="end" class="b">0.0</text>
<text x="833" y="937.4" font-size="19.5" text-anchor="end" class="b">0.5</text>
<text x="833" y="839.8" font-size="19.5" text-anchor="end" class="b">1.0</text>
<text x="833" y="742.2" font-size="19.5" text-anchor="end" class="b">1.5</text>
<text x="833" y="644.6" font-size="19.5" text-anchor="end" class="b">2.0</text>
<clipPath id="clipd"><rect x="847.5" y="640.1" width="593.25" height="439.2"/></clipPath>
<g clip-path="url(#clipd)">
<path d="M887.05 1009.03L926.6 1022.69L966.15 1018.79L1005.7 887.81L1045.25 757.81L1084.8 887.22L1124.35 937.58L1163.9 974.67L1203.45 1006.1L1243 1027.57L1282.55 1029.52L1322.1 1018.79L1361.65 1021.33L1401.2 1018.79" fill="none" stroke="#000000" stroke-width="1.6" stroke-opacity="0.82" stroke-linejoin="round"/>
<rect x="881.8" y="1003.78" width="10.5" height="10.5" fill="#000000"/>
<rect x="921.35" y="1017.44" width="10.5" height="10.5" fill="#000000"/>
<rect x="960.9" y="1013.54" width="10.5" height="10.5" fill="#000000"/>
<rect x="1000.45" y="882.56" width="10.5" height="10.5" fill="#000000"/>
<rect x="1040" y="752.56" width="10.5" height="10.5" fill="#000000"/>
<rect x="1079.55" y="881.97" width="10.5" height="10.5" fill="#000000"/>
<rect x="1119.1" y="932.33" width="10.5" height="10.5" fill="#000000"/>
<rect x="1158.65" y="969.42" width="10.5" height="10.5" fill="#000000"/>
<rect x="1198.2" y="1000.85" width="10.5" height="10.5" fill="#000000"/>
<rect x="1237.75" y="1022.32" width="10.5" height="10.5" fill="#000000"/>
<rect x="1277.3" y="1024.27" width="10.5" height="10.5" fill="#000000"/>
<rect x="1316.85" y="1013.54" width="10.5" height="10.5" fill="#000000"/>
<rect x="1356.4" y="1016.08" width="10.5" height="10.5" fill="#000000"/>
<rect x="1395.95" y="1013.54" width="10.5" height="10.5" fill="#000000"/>
<path d="M887.05 1006.1L926.6 1011.18L966.15 1018.79L1005.7 948.32L1045.25 891.91L1084.8 946.37L1124.35 1022.69L1163.9 1029.52L1203.45 1029.52L1243 1029.52L1282.55 1029.52L1322.1 1026.6L1361.65 1024.64L1401.2 1017.81" fill="none" stroke="#ff0000" stroke-width="1.6" stroke-opacity="0.82" stroke-linejoin="round"/>
<circle cx="887.05" cy="1006.1" r="5.8" fill="#ff0000"/>
<circle cx="926.6" cy="1011.18" r="5.8" fill="#ff0000"/>
<circle cx="966.15" cy="1018.79" r="5.8" fill="#ff0000"/>
<circle cx="1005.7" cy="948.32" r="5.8" fill="#ff0000"/>
<circle cx="1045.25" cy="891.91" r="5.8" fill="#ff0000"/>
<circle cx="1084.8" cy="946.37" r="5.8" fill="#ff0000"/>
<circle cx="1124.35" cy="1022.69" r="5.8" fill="#ff0000"/>
<circle cx="1163.9" cy="1029.52" r="5.8" fill="#ff0000"/>
<circle cx="1203.45" cy="1029.52" r="5.8" fill="#ff0000"/>
<circle cx="1243" cy="1029.52" r="5.8" fill="#ff0000"/>
<circle cx="1282.55" cy="1029.52" r="5.8" fill="#ff0000"/>
<circle cx="1322.1" cy="1026.6" r="5.8" fill="#ff0000"/>
<circle cx="1361.65" cy="1024.64" r="5.8" fill="#ff0000"/>
<circle cx="1401.2" cy="1017.81" r="5.8" fill="#ff0000"/>
<path d="M887.05 1001.02L926.6 1026.6L966.15 1028.55L1005.7 918.26L1045.25 807.58L1084.8 991.46L1124.35 1022.69L1163.9 1029.52L1203.45 1029.52L1243 1029.52L1282.55 1029.52L1322.1 1029.52L1361.65 1029.52L1401.2 1022.5" fill="none" stroke="#0000ff" stroke-width="1.6" stroke-opacity="0.82" stroke-linejoin="round"/>
<path d="M887.05 993.72L894.05 1005.62L880.05 1005.62Z" fill="#0000ff"/>
<path d="M926.6 1019.3L933.6 1031.2L919.6 1031.2Z" fill="#0000ff"/>
<path d="M966.15 1021.25L973.15 1033.15L959.15 1033.15Z" fill="#0000ff"/>
<path d="M1005.7 910.96L1012.7 922.86L998.7 922.86Z" fill="#0000ff"/>
<path d="M1045.25 800.28L1052.25 812.18L1038.25 812.18Z" fill="#0000ff"/>
<path d="M1084.8 984.16L1091.8 996.06L1077.8 996.06Z" fill="#0000ff"/>
<path d="M1124.35 1015.39L1131.35 1027.29L1117.35 1027.29Z" fill="#0000ff"/>
<path d="M1163.9 1022.22L1170.9 1034.12L1156.9 1034.12Z" fill="#0000ff"/>
<path d="M1203.45 1022.22L1210.45 1034.12L1196.45 1034.12Z" fill="#0000ff"/>
<path d="M1243 1022.22L1250 1034.12L1236 1034.12Z" fill="#0000ff"/>
<path d="M1282.55 1022.22L1289.55 1034.12L1275.55 1034.12Z" fill="#0000ff"/>
<path d="M1322.1 1022.22L1329.1 1034.12L1315.1 1034.12Z" fill="#0000ff"/>
<path d="M1361.65 1022.22L1368.65 1034.12L1354.65 1034.12Z" fill="#0000ff"/>
<path d="M1401.2 1015.2L1408.2 1027.1L1394.2 1027.1Z" fill="#0000ff"/>
<path d="M887.05 1013.71L926.6 1018.79L966.15 1028.55L1005.7 1002.2L1045.25 977.99L1084.8 994.58L1124.35 1021.72L1163.9 1023.28L1203.45 1026.6L1243 1028.55L1282.55 1029.52L1322.1 1029.52L1361.65 1028.55L1401.2 1016.84" fill="none" stroke="#ff00ff" stroke-width="1.6" stroke-opacity="0.82" stroke-linejoin="round"/>
<path d="M880.05 1009.41L894.05 1009.41L887.05 1021.21Z" fill="#ff00ff"/>
<path d="M919.6 1014.49L933.6 1014.49L926.6 1026.29Z" fill="#ff00ff"/>
<path d="M959.15 1024.25L973.15 1024.25L966.15 1036.05Z" fill="#ff00ff"/>
<path d="M998.7 997.9L1012.7 997.9L1005.7 1009.7Z" fill="#ff00ff"/>
<path d="M1038.25 973.69L1052.25 973.69L1045.25 985.49Z" fill="#ff00ff"/>
<path d="M1077.8 990.28L1091.8 990.28L1084.8 1002.08Z" fill="#ff00ff"/>
<path d="M1117.35 1017.42L1131.35 1017.42L1124.35 1029.22Z" fill="#ff00ff"/>
<path d="M1156.9 1018.98L1170.9 1018.98L1163.9 1030.78Z" fill="#ff00ff"/>
<path d="M1196.45 1022.3L1210.45 1022.3L1203.45 1034.1Z" fill="#ff00ff"/>
<path d="M1236 1024.25L1250 1024.25L1243 1036.05Z" fill="#ff00ff"/>
<path d="M1275.55 1025.22L1289.55 1025.22L1282.55 1037.02Z" fill="#ff00ff"/>
<path d="M1315.1 1025.22L1329.1 1025.22L1322.1 1037.02Z" fill="#ff00ff"/>
<path d="M1354.65 1024.25L1368.65 1024.25L1361.65 1036.05Z" fill="#ff00ff"/>
<path d="M1394.2 1012.54L1408.2 1012.54L1401.2 1024.34Z" fill="#ff00ff"/>
<path d="M887.05 1022.69L926.6 1021.33L966.15 1018.4L1005.7 989.51L1045.25 932.31L1084.8 988.92L1124.35 1021.33L1163.9 1030.5L1203.45 1030.5L1243 1030.5L1282.55 1029.52L1322.1 1020.15L1361.65 1028.55L1401.2 1008.44" fill="none" stroke="#008000" stroke-width="1.6" stroke-opacity="0.82" stroke-linejoin="round"/>
<path d="M887.05 1015.39L894.55 1022.69L887.05 1029.99L879.55 1022.69Z" fill="#008000"/>
<path d="M926.6 1014.03L934.1 1021.33L926.6 1028.63L919.1 1021.33Z" fill="#008000"/>
<path d="M966.15 1011.1L973.65 1018.4L966.15 1025.7L958.65 1018.4Z" fill="#008000"/>
<path d="M1005.7 982.21L1013.2 989.51L1005.7 996.81L998.2 989.51Z" fill="#008000"/>
<path d="M1045.25 925.01L1052.75 932.31L1045.25 939.61L1037.75 932.31Z" fill="#008000"/>
<path d="M1084.8 981.62L1092.3 988.92L1084.8 996.22L1077.3 988.92Z" fill="#008000"/>
<path d="M1124.35 1014.03L1131.85 1021.33L1124.35 1028.63L1116.85 1021.33Z" fill="#008000"/>
<path d="M1163.9 1023.2L1171.4 1030.5L1163.9 1037.8L1156.4 1030.5Z" fill="#008000"/>
<path d="M1203.45 1023.2L1210.95 1030.5L1203.45 1037.8L1195.95 1030.5Z" fill="#008000"/>
<path d="M1243 1023.2L1250.5 1030.5L1243 1037.8L1235.5 1030.5Z" fill="#008000"/>
<path d="M1282.55 1022.22L1290.05 1029.52L1282.55 1036.82L1275.05 1029.52Z" fill="#008000"/>
<path d="M1322.1 1012.85L1329.6 1020.15L1322.1 1027.45L1314.6 1020.15Z" fill="#008000"/>
<path d="M1361.65 1021.25L1369.15 1028.55L1361.65 1035.85L1354.15 1028.55Z" fill="#008000"/>
<path d="M1401.2 1001.14L1408.7 1008.44L1401.2 1015.74L1393.7 1008.44Z" fill="#008000"/>
</g>
<rect x="1232.8" y="651.2" width="191.7" height="159.7" fill="#fff" stroke="#666" stroke-width="1.5"/>
<text x="1244" y="674.4" font-size="20" class="b" textLength="176" lengthAdjust="spacingAndGlyphs">Repetition Dataset</text>
<line x1="1293.3" y1="694.1" x2="1340.3" y2="694.1" stroke="#000000" stroke-width="1.6" stroke-opacity="0.75"/>
<rect x="1311.55" y="688.85" width="10.5" height="10.5" fill="#000000"/>
<text x="1346.4" y="701.1" font-size="19.5" class="b">1</text>
<line x1="1293.3" y1="720.5" x2="1340.3" y2="720.5" stroke="#ff0000" stroke-width="1.6" stroke-opacity="0.75"/>
<circle cx="1316.8" cy="720.5" r="5.8" fill="#ff0000"/>
<text x="1346.4" y="727.5" font-size="19.5" class="b">2</text>
<line x1="1293.3" y1="746.4" x2="1340.3" y2="746.4" stroke="#0000ff" stroke-width="1.6" stroke-opacity="0.75"/>
<path d="M1316.8 739.1L1323.8 751L1309.8 751Z" fill="#0000ff"/>
<text x="1346.4" y="753.4" font-size="19.5" class="b">3</text>
<line x1="1293.3" y1="772.5" x2="1340.3" y2="772.5" stroke="#ff00ff" stroke-width="1.6" stroke-opacity="0.75"/>
<path d="M1309.8 768.2L1323.8 768.2L1316.8 780Z" fill="#ff00ff"/>
<text x="1346.4" y="779.5" font-size="19.5" class="b">4</text>
<line x1="1293.3" y1="798.9" x2="1340.3" y2="798.9" stroke="#008000" stroke-width="1.6" stroke-opacity="0.75"/>
<path d="M1316.8 791.6L1324.3 798.9L1316.8 806.2L1309.3 798.9Z" fill="#008000"/>
<text x="1346.4" y="805.9" font-size="19.5" class="b">5</text>
<text transform="translate(0 0) rotate(-90)" font-size="21.2" class="b"><tspan x="-1007.32" y="791.2" letter-spacing="-0">NIKAZ Coefficient ( x 10</tspan><tspan x="-767.67" y="779" font-size="12">-11</tspan><tspan x="-748.22" y="791.2">)</tspan></text>
<text x="1144.3" y="1145.6" font-size="20" text-anchor="middle" class="b">IMF</text>
<text transform="translate(1144.8 1178.8) scale(1.08 1)" font-size="30" text-anchor="middle" class="s">(d)</text>
</g>
</svg>
</body></html>
